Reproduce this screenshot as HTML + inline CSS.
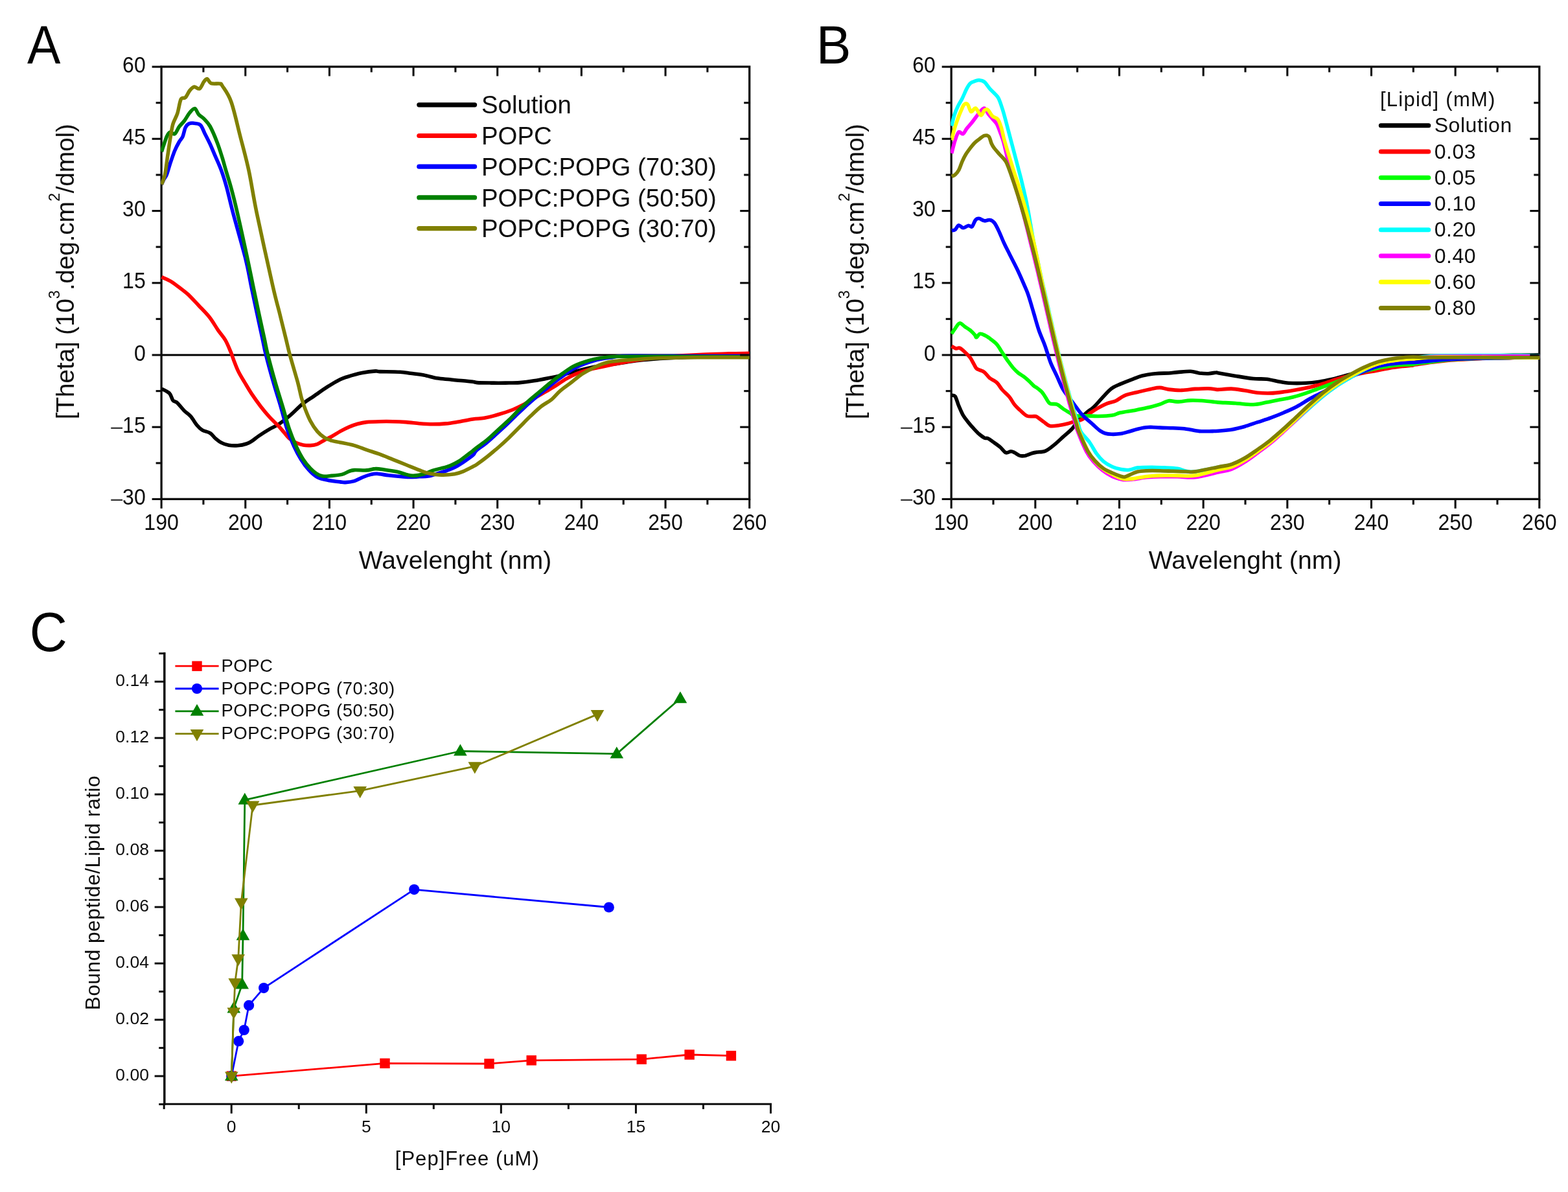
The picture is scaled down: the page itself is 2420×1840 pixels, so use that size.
<!DOCTYPE html>
<html lang="en"><head><meta charset="utf-8"><title>CD spectra and binding isotherms</title>
<style>
html,body{margin:0;padding:0;background:#fff;}
body{width:2420px;height:1840px;overflow:hidden;}
svg{display:block;}
</style></head><body>
<svg width="2420" height="1840" viewBox="0 0 2420 1840" font-family='"Liberation Sans", Arial, Helvetica, sans-serif' role="img" aria-label="CD spectra (A, B) and binding isotherms (C)">
<rect width="2420" height="1840" fill="#ffffff"/>
<clipPath id="clipA"><rect x="248.1" y="103.0" width="910.0" height="667.4"/></clipPath>
<line x1="249.10" y1="548.00" x2="1156.70" y2="548.00" stroke="#000" stroke-width="2.80" stroke-linecap="butt"/>
<rect x="249.10" y="103.00" width="907.60" height="667.40" fill="none" stroke="#0d0d0d" stroke-width="3.30"/>
<g clip-path="url(#clipA)" fill="none" stroke-width="5.6" stroke-linejoin="round" stroke-linecap="butt">
<path d="M249.4,600.1 C251.4,601.3 258.5,604.0 261.4,607.0 C264.4,610.0 264.9,615.4 266.9,617.9 C269.0,620.5 270.8,619.3 273.8,622.0 C276.7,624.8 281.3,630.9 284.7,634.4 C288.1,637.8 291.1,638.9 294.3,642.6 C297.5,646.2 300.9,652.7 303.9,656.3 C306.8,659.8 308.7,661.9 312.1,663.9 C315.5,666.0 321.0,666.4 324.4,668.6 C327.8,670.7 329.6,674.3 332.6,676.8 C335.6,679.3 338.8,681.9 342.2,683.6 C345.6,685.4 349.0,686.5 353.1,687.2 C357.3,687.9 362.3,688.1 366.8,687.7 C371.4,687.4 376.9,686.2 380.5,685.0 C384.2,683.9 385.5,683.0 388.7,680.9 C391.9,678.9 395.1,675.8 399.7,672.7 C404.2,669.6 411.1,665.2 416.1,662.3 C421.2,659.3 424.7,658.5 430.0,655.0 C435.3,651.5 441.5,646.7 447.6,641.4 C453.8,636.2 460.5,628.8 466.7,623.8 C472.8,618.8 477.7,616.1 484.3,611.6 C490.9,607.1 499.2,601.0 506.0,596.7 C512.8,592.4 520.0,588.3 525.0,585.8 C530.0,583.3 530.2,583.4 535.9,581.7 C541.5,580.0 551.7,577.1 559.0,575.6 C566.2,574.1 574.8,573.2 579.3,572.9 C583.8,572.6 579.8,573.3 586.1,573.6 C592.4,573.8 609.4,573.8 617.3,574.3 C625.2,574.7 627.5,575.5 633.6,576.3 C639.7,577.1 647.2,577.8 654.0,579.0 C660.8,580.2 667.6,582.6 674.3,583.8 C681.1,584.9 687.9,585.1 694.7,585.8 C701.5,586.5 709.2,587.3 715.1,587.8 C721.0,588.4 726.4,588.7 730.0,589.2 C733.6,589.6 731.7,590.2 736.4,590.6 C741.1,590.9 751.0,591.0 758.3,591.1 C765.6,591.2 772.9,591.2 780.2,591.1 C787.5,591.0 794.8,591.1 802.1,590.6 C809.4,590.0 816.7,589.0 824.0,587.8 C831.3,586.7 839.1,585.1 845.9,583.7 C852.7,582.4 858.7,581.2 865.1,579.6 C871.5,578.0 877.4,576.0 884.2,574.1 C891.1,572.3 898.8,570.3 906.1,568.7 C913.4,567.1 920.7,565.7 928.0,564.6 C935.3,563.4 942.6,562.9 949.9,561.8 C957.2,560.8 964.5,559.3 971.8,558.3 C979.1,557.2 986.4,556.3 993.7,555.5 C1001.0,554.7 1007.4,554.2 1015.6,553.6 C1023.8,553.1 1031.6,552.7 1043.0,552.2 C1054.4,551.8 1065.1,551.2 1084.1,550.9 C1103.0,550.6 1144.5,550.4 1156.6,550.3" stroke="#000000"/>
<path d="M249.4,427.6 C251.6,428.7 258.3,431.3 262.8,433.9 C267.3,436.5 271.9,440.1 276.5,443.5 C281.1,446.9 285.2,449.8 290.2,454.4 C295.2,459.1 301.1,465.7 306.6,471.5 C312.1,477.3 318.0,482.9 323.0,489.3 C328.1,495.7 332.6,503.9 336.7,509.8 C340.8,515.7 344.5,519.4 347.7,524.9 C350.9,530.3 353.6,537.2 355.9,542.7 C358.2,548.1 359.3,552.5 361.4,557.7 C363.4,563.0 365.5,568.7 368.2,574.1 C370.9,579.6 374.4,584.9 377.8,590.6 C381.2,596.3 384.6,602.2 388.7,608.4 C392.8,614.5 397.9,621.6 402.4,627.5 C407.0,633.5 411.5,638.9 416.1,643.9 C420.7,649.0 426.3,653.9 430.0,657.7 C433.7,661.6 435.4,664.1 438.1,667.2 C440.9,670.4 443.1,674.0 446.3,676.7 C449.5,679.5 453.5,681.8 457.1,683.5 C460.8,685.2 464.4,686.2 468.0,686.9 C471.6,687.6 475.2,687.8 478.9,687.6 C482.5,687.4 486.1,686.9 489.7,685.6 C493.3,684.2 497.0,681.4 500.6,679.5 C504.2,677.5 507.4,676.3 511.4,674.0 C515.5,671.8 520.5,668.4 525.0,665.9 C529.5,663.4 534.1,661.0 538.6,659.1 C543.1,657.2 547.6,655.6 552.2,654.3 C556.7,653.1 560.1,652.2 565.7,651.6 C571.4,651.0 579.3,650.8 586.1,650.7 C592.9,650.5 599.7,650.5 606.5,650.7 C613.3,650.8 620.0,651.1 626.8,651.6 C633.6,652.1 640.4,653.1 647.2,653.7 C654.0,654.2 660.8,654.7 667.6,654.8 C674.3,654.8 681.1,654.6 687.9,653.9 C694.7,653.3 701.3,652.1 708.3,651.0 C715.3,649.8 723.5,647.8 730.0,646.9 C736.5,645.9 740.8,646.5 747.4,645.3 C753.9,644.1 762.0,642.0 769.3,639.8 C776.6,637.7 784.8,635.0 791.2,632.5 C797.5,629.9 802.1,627.7 807.6,624.8 C813.1,621.9 818.5,618.4 824.0,615.2 C829.5,612.0 835.0,608.8 840.4,605.6 C845.9,602.4 851.4,599.5 856.9,596.0 C862.3,592.6 867.8,588.3 873.3,585.1 C878.8,581.9 884.2,579.2 889.7,576.9 C895.2,574.6 899.7,573.1 906.1,571.4 C912.5,569.7 920.7,568.1 928.0,566.5 C935.3,564.9 942.6,563.3 949.9,561.8 C957.2,560.4 964.5,558.9 971.8,557.7 C979.1,556.5 986.4,555.4 993.7,554.4 C1001.0,553.4 1007.4,552.5 1015.6,551.7 C1023.8,550.9 1031.6,550.2 1043.0,549.5 C1054.4,548.8 1070.4,547.9 1084.1,547.3 C1097.8,546.7 1113.0,546.3 1125.1,545.9 C1137.2,545.6 1151.4,545.5 1156.6,545.4" stroke="#ff0000"/>
<path d="M249.4,284.7 C250.0,283.3 251.9,279.0 253.2,276.5 C254.5,274.0 255.7,273.8 257.3,269.6 C258.9,265.5 260.8,258.0 262.8,251.9 C264.9,245.7 267.4,238.2 269.6,232.7 C271.9,227.2 274.4,222.7 276.5,219.0 C278.5,215.4 280.4,214.4 282.0,210.8 C283.6,207.1 284.5,200.4 286.1,197.1 C287.7,193.8 289.3,192.2 291.5,191.1 C293.8,189.9 296.8,189.9 299.8,190.3 C302.7,190.6 306.6,190.4 309.3,193.0 C312.1,195.6 313.5,201.0 316.0,205.9 C318.5,210.7 321.4,216.3 324.2,222.2 C326.9,228.1 329.4,234.4 332.3,241.2 C335.2,248.0 338.6,254.8 341.5,262.9 C344.5,271.0 347.0,279.2 350.0,290.0 C352.9,300.9 354.6,309.7 359.5,328.1 C364.3,346.4 374.4,381.2 379.1,400.0 C383.8,418.8 384.7,427.1 387.5,440.7 C390.3,454.3 393.2,467.9 396.1,481.4 C399.0,495.0 402.5,511.2 404.9,522.2 C407.3,533.1 407.5,536.0 410.3,547.3 C413.1,558.6 418.0,576.6 421.9,590.0 C425.7,603.5 429.9,616.1 433.4,628.1 C436.9,640.0 439.5,651.7 442.9,661.8 C446.3,672.0 450.1,681.0 453.8,689.0 C457.4,696.9 460.9,703.3 464.6,709.3 C468.3,715.3 472.0,720.4 476.2,724.9 C480.3,729.5 484.8,733.8 489.7,736.5 C494.7,739.2 500.1,740.0 506.0,741.2 C511.9,742.5 520.5,743.4 525.0,743.9 C529.5,744.5 529.5,744.8 533.2,744.6 C536.8,744.4 542.2,743.9 546.7,742.6 C551.3,741.2 556.0,738.2 560.3,736.5 C564.6,734.8 568.9,733.3 572.5,732.4 C576.2,731.5 577.5,731.1 582.0,731.3 C586.6,731.5 593.3,733.0 599.7,733.8 C606.0,734.5 614.4,735.3 620.0,735.8 C625.7,736.2 629.1,736.5 633.6,736.5 C638.1,736.5 642.7,736.0 647.2,735.8 C651.7,735.6 656.2,735.9 660.8,735.1 C665.3,734.4 669.8,732.7 674.3,731.3 C678.9,730.0 683.4,728.6 687.9,727.0 C692.4,725.3 697.0,723.8 701.5,721.5 C706.0,719.3 710.3,716.6 715.1,713.4 C719.8,710.2 726.7,705.5 730.0,702.5 C733.3,699.6 731.7,698.7 735.0,695.6 C738.3,692.6 745.0,688.4 750.0,684.3 C755.0,680.2 760.0,675.5 765.0,671.0 C770.0,666.5 775.0,662.0 780.0,657.3 C785.0,652.5 790.0,647.5 795.0,642.7 C800.0,637.9 805.0,633.0 810.0,628.4 C815.0,623.8 820.0,619.5 825.0,615.2 C830.0,610.9 835.0,606.8 840.0,602.7 C845.0,598.6 850.0,594.4 855.0,590.5 C860.0,586.6 865.0,582.9 870.0,579.4 C875.0,575.9 880.0,572.2 885.0,569.4 C890.0,566.5 895.0,564.4 900.0,562.4 C905.0,560.3 910.0,558.7 915.0,557.3 C920.0,555.8 925.0,554.7 930.0,553.8 C935.0,552.9 939.9,552.4 945.0,551.7 C950.1,551.0 949.1,549.9 960.9,549.5 C972.7,549.1 983.0,549.5 1015.6,549.5 C1048.3,549.5 1133.1,549.5 1156.6,549.5" stroke="#0000ff"/>
<path d="M249.4,234.1 C250.7,230.2 255.1,215.8 257.3,210.8 C259.6,205.8 260.8,204.6 262.8,203.9 C264.9,203.3 267.4,208.1 269.6,206.7 C271.9,205.3 274.0,199.2 276.5,195.7 C279.0,192.3 282.0,189.8 284.7,186.2 C287.4,182.5 290.3,176.9 292.9,173.8 C295.6,170.7 298.3,167.1 300.6,167.5 C302.9,168.0 304.2,173.9 306.6,176.6 C309.0,179.2 311.9,180.3 314.8,183.4 C317.7,186.5 320.8,189.0 324.2,195.0 C327.5,201.0 331.9,211.3 335.0,219.5 C338.2,227.6 340.9,236.7 343.2,243.9 C345.4,251.1 346.3,255.2 348.6,262.9 C350.9,270.6 353.8,279.2 356.7,290.0 C359.7,300.9 362.0,309.7 366.2,328.1 C370.5,346.4 378.0,381.2 382.1,400.0 C386.1,418.8 387.7,427.1 390.5,440.7 C393.3,454.3 396.2,467.9 399.0,481.4 C401.9,495.0 405.5,511.2 407.9,522.2 C410.2,533.1 410.5,536.0 413.3,547.3 C416.1,558.6 421.0,576.6 424.8,590.0 C428.7,603.5 432.8,616.1 436.4,628.1 C440.0,640.0 442.8,651.7 446.3,661.8 C449.8,672.0 453.5,681.0 457.1,689.0 C460.8,696.9 464.4,703.7 468.0,709.3 C471.6,715.0 475.5,719.3 478.9,722.9 C482.3,726.5 485.2,729.0 488.4,731.0 C491.5,733.1 494.0,734.5 497.9,735.1 C501.7,735.7 506.5,734.9 511.4,734.4 C516.4,734.0 523.2,733.5 527.7,732.4 C532.3,731.3 535.4,728.8 538.6,727.6 C541.8,726.5 542.2,725.9 546.7,725.6 C551.3,725.3 560.3,726.2 565.7,725.9 C571.2,725.5 574.8,723.7 579.3,723.6 C583.8,723.4 587.2,724.1 592.9,724.9 C598.6,725.7 607.6,727.1 613.3,728.3 C618.9,729.6 622.8,731.4 626.8,732.4 C630.9,733.4 633.2,734.5 637.7,734.4 C642.2,734.3 649.0,733.1 654.0,731.7 C659.0,730.4 663.0,727.8 667.6,726.3 C672.1,724.8 676.6,724.1 681.1,722.9 C685.7,721.7 690.2,720.6 694.7,718.8 C699.2,717.0 704.2,714.5 708.3,712.0 C712.4,709.5 715.5,706.6 719.1,703.9 C722.8,701.2 727.1,698.0 730.0,695.7 C732.9,693.5 732.6,693.4 736.4,690.5 C740.2,687.6 747.4,682.7 752.8,678.2 C758.3,673.6 763.8,668.1 769.3,663.1 C774.7,658.1 780.2,653.3 785.7,648.1 C791.2,642.8 796.6,636.9 802.1,631.6 C807.6,626.4 813.1,621.4 818.5,616.6 C824.0,611.8 829.5,607.4 835.0,602.9 C840.4,598.3 845.9,593.5 851.4,589.2 C856.9,584.9 862.3,580.8 867.8,576.9 C873.3,573.0 878.8,568.9 884.2,565.9 C889.7,563.0 895.2,561.0 900.7,559.1 C906.1,557.2 911.6,555.7 917.1,554.4 C922.6,553.2 927.1,552.4 933.5,551.7 C939.9,551.0 941.7,550.6 955.4,550.3 C969.1,550.1 982.1,550.2 1015.6,550.3 C1049.2,550.4 1133.1,550.8 1156.6,550.9" stroke="#008000"/>
<path d="M249.4,284.7 C250.3,282.2 253.0,276.9 254.6,269.6 C256.1,262.3 257.3,250.3 258.7,240.9 C260.1,231.6 261.4,221.7 262.8,213.5 C264.2,205.3 265.1,198.0 266.9,191.6 C268.7,185.2 271.7,181.6 273.8,175.2 C275.8,168.8 277.2,157.4 279.2,153.3 C281.3,149.2 283.8,152.8 286.1,150.6 C288.4,148.3 290.6,142.4 292.9,139.6 C295.2,136.9 297.3,134.6 299.8,134.1 C302.3,133.7 305.5,138.2 308.0,136.9 C310.5,135.5 312.9,128.4 314.8,125.9 C316.8,123.4 317.9,121.4 319.7,121.8 C321.6,122.3 322.5,127.4 325.8,128.7 C329.1,129.9 336.6,128.6 339.5,129.2 C342.4,129.9 340.3,127.9 343.2,132.6 C346.0,137.2 352.2,144.3 356.7,157.0 C361.3,169.7 365.8,191.0 370.3,208.6 C374.8,226.2 379.6,243.0 383.9,262.9 C388.2,282.8 390.0,298.4 396.1,328.1 C402.3,357.7 415.0,415.2 420.8,440.7 C426.6,466.3 427.6,467.9 431.0,481.4 C434.3,495.0 438.4,511.2 441.1,522.2 C443.8,533.1 444.2,536.0 447.2,547.3 C450.3,558.6 456.4,578.9 459.5,590.0 C462.5,601.2 463.4,607.5 465.3,614.3 C467.2,621.1 468.5,624.7 470.7,630.6 C473.0,636.5 475.7,643.7 478.9,649.6 C482.0,655.5 486.1,661.6 489.7,665.9 C493.3,670.2 497.0,673.0 500.6,675.4 C504.2,677.8 507.4,678.9 511.4,680.1 C515.5,681.4 519.1,681.6 525.0,682.9 C530.9,684.1 540.0,685.7 546.7,687.6 C553.5,689.5 559.2,692.1 565.7,694.4 C572.3,696.7 579.3,698.7 586.1,701.2 C592.9,703.7 599.7,706.6 606.5,709.3 C613.3,712.0 620.0,714.8 626.8,717.5 C633.6,720.2 641.5,723.5 647.2,725.6 C652.9,727.8 655.1,729.1 660.8,730.4 C666.4,731.6 674.3,732.9 681.1,733.1 C687.9,733.3 695.8,732.6 701.5,731.7 C707.1,730.8 710.3,729.6 715.1,727.6 C719.8,725.7 726.4,722.0 730.0,720.2 C733.6,718.3 732.6,719.2 736.4,716.5 C740.2,713.8 747.4,708.5 752.8,704.2 C758.3,699.8 763.8,695.3 769.3,690.5 C774.7,685.7 780.2,680.7 785.7,675.4 C791.2,670.2 796.6,664.5 802.1,659.0 C807.6,653.5 813.1,647.8 818.5,642.6 C824.0,637.3 829.5,631.9 835.0,627.5 C840.4,623.2 846.4,620.7 851.4,616.6 C856.4,612.5 860.0,607.2 865.1,602.9 C870.1,598.6 876.5,594.4 881.5,590.6 C886.5,586.7 890.6,582.8 895.2,579.6 C899.7,576.4 904.3,573.9 908.9,571.4 C913.4,568.9 917.5,566.6 922.6,564.6 C927.6,562.5 932.6,560.5 939.0,559.1 C945.4,557.7 952.7,557.1 960.9,556.3 C969.1,555.6 979.1,555.0 988.3,554.4 C997.4,553.8 1001.9,553.2 1015.6,552.8 C1029.3,552.3 1046.9,551.9 1070.4,551.7 C1093.9,551.5 1142.2,551.7 1156.6,551.7" stroke="#808000"/>
</g>
<line x1="249.10" y1="770.40" x2="249.10" y2="784.90" stroke="#0d0d0d" stroke-width="3.10" stroke-linecap="butt"/>
<text transform="translate(249.10,817.50) scale(0.9300,1.0000)" font-size="34.50" text-anchor="middle" fill="#0d0d0d">190</text>
<line x1="313.93" y1="770.40" x2="313.93" y2="778.90" stroke="#0d0d0d" stroke-width="3.10" stroke-linecap="butt"/>
<line x1="313.93" y1="103.00" x2="313.93" y2="111.50" stroke="#0d0d0d" stroke-width="3.10" stroke-linecap="butt"/>
<line x1="378.76" y1="770.40" x2="378.76" y2="784.90" stroke="#0d0d0d" stroke-width="3.10" stroke-linecap="butt"/>
<line x1="378.76" y1="103.00" x2="378.76" y2="117.50" stroke="#0d0d0d" stroke-width="3.10" stroke-linecap="butt"/>
<text transform="translate(378.76,817.50) scale(0.9300,1.0000)" font-size="34.50" text-anchor="middle" fill="#0d0d0d">200</text>
<line x1="443.59" y1="770.40" x2="443.59" y2="778.90" stroke="#0d0d0d" stroke-width="3.10" stroke-linecap="butt"/>
<line x1="443.59" y1="103.00" x2="443.59" y2="111.50" stroke="#0d0d0d" stroke-width="3.10" stroke-linecap="butt"/>
<line x1="508.41" y1="770.40" x2="508.41" y2="784.90" stroke="#0d0d0d" stroke-width="3.10" stroke-linecap="butt"/>
<line x1="508.41" y1="103.00" x2="508.41" y2="117.50" stroke="#0d0d0d" stroke-width="3.10" stroke-linecap="butt"/>
<text transform="translate(508.41,817.50) scale(0.9300,1.0000)" font-size="34.50" text-anchor="middle" fill="#0d0d0d">210</text>
<line x1="573.24" y1="770.40" x2="573.24" y2="778.90" stroke="#0d0d0d" stroke-width="3.10" stroke-linecap="butt"/>
<line x1="573.24" y1="103.00" x2="573.24" y2="111.50" stroke="#0d0d0d" stroke-width="3.10" stroke-linecap="butt"/>
<line x1="638.07" y1="770.40" x2="638.07" y2="784.90" stroke="#0d0d0d" stroke-width="3.10" stroke-linecap="butt"/>
<line x1="638.07" y1="103.00" x2="638.07" y2="117.50" stroke="#0d0d0d" stroke-width="3.10" stroke-linecap="butt"/>
<text transform="translate(638.07,817.50) scale(0.9300,1.0000)" font-size="34.50" text-anchor="middle" fill="#0d0d0d">220</text>
<line x1="702.90" y1="770.40" x2="702.90" y2="778.90" stroke="#0d0d0d" stroke-width="3.10" stroke-linecap="butt"/>
<line x1="702.90" y1="103.00" x2="702.90" y2="111.50" stroke="#0d0d0d" stroke-width="3.10" stroke-linecap="butt"/>
<line x1="767.73" y1="770.40" x2="767.73" y2="784.90" stroke="#0d0d0d" stroke-width="3.10" stroke-linecap="butt"/>
<line x1="767.73" y1="103.00" x2="767.73" y2="117.50" stroke="#0d0d0d" stroke-width="3.10" stroke-linecap="butt"/>
<text transform="translate(767.73,817.50) scale(0.9300,1.0000)" font-size="34.50" text-anchor="middle" fill="#0d0d0d">230</text>
<line x1="832.56" y1="770.40" x2="832.56" y2="778.90" stroke="#0d0d0d" stroke-width="3.10" stroke-linecap="butt"/>
<line x1="832.56" y1="103.00" x2="832.56" y2="111.50" stroke="#0d0d0d" stroke-width="3.10" stroke-linecap="butt"/>
<line x1="897.39" y1="770.40" x2="897.39" y2="784.90" stroke="#0d0d0d" stroke-width="3.10" stroke-linecap="butt"/>
<line x1="897.39" y1="103.00" x2="897.39" y2="117.50" stroke="#0d0d0d" stroke-width="3.10" stroke-linecap="butt"/>
<text transform="translate(897.39,817.50) scale(0.9300,1.0000)" font-size="34.50" text-anchor="middle" fill="#0d0d0d">240</text>
<line x1="962.21" y1="770.40" x2="962.21" y2="778.90" stroke="#0d0d0d" stroke-width="3.10" stroke-linecap="butt"/>
<line x1="962.21" y1="103.00" x2="962.21" y2="111.50" stroke="#0d0d0d" stroke-width="3.10" stroke-linecap="butt"/>
<line x1="1027.04" y1="770.40" x2="1027.04" y2="784.90" stroke="#0d0d0d" stroke-width="3.10" stroke-linecap="butt"/>
<line x1="1027.04" y1="103.00" x2="1027.04" y2="117.50" stroke="#0d0d0d" stroke-width="3.10" stroke-linecap="butt"/>
<text transform="translate(1027.04,817.50) scale(0.9300,1.0000)" font-size="34.50" text-anchor="middle" fill="#0d0d0d">250</text>
<line x1="1091.87" y1="770.40" x2="1091.87" y2="778.90" stroke="#0d0d0d" stroke-width="3.10" stroke-linecap="butt"/>
<line x1="1091.87" y1="103.00" x2="1091.87" y2="111.50" stroke="#0d0d0d" stroke-width="3.10" stroke-linecap="butt"/>
<line x1="1156.70" y1="770.40" x2="1156.70" y2="784.90" stroke="#0d0d0d" stroke-width="3.10" stroke-linecap="butt"/>
<text transform="translate(1156.70,817.50) scale(0.9300,1.0000)" font-size="34.50" text-anchor="middle" fill="#0d0d0d">260</text>
<line x1="234.60" y1="103.10" x2="249.10" y2="103.10" stroke="#0d0d0d" stroke-width="3.10" stroke-linecap="butt"/>
<text transform="translate(224.80,111.80) scale(0.9300,1.0000)" font-size="34.50" text-anchor="end" fill="#0d0d0d">60</text>
<line x1="240.60" y1="158.71" x2="249.10" y2="158.71" stroke="#0d0d0d" stroke-width="3.10" stroke-linecap="butt"/>
<line x1="1148.20" y1="158.71" x2="1156.70" y2="158.71" stroke="#0d0d0d" stroke-width="3.10" stroke-linecap="butt"/>
<line x1="234.60" y1="214.32" x2="249.10" y2="214.32" stroke="#0d0d0d" stroke-width="3.10" stroke-linecap="butt"/>
<line x1="1142.20" y1="214.32" x2="1156.70" y2="214.32" stroke="#0d0d0d" stroke-width="3.10" stroke-linecap="butt"/>
<text transform="translate(224.80,223.02) scale(0.9300,1.0000)" font-size="34.50" text-anchor="end" fill="#0d0d0d">45</text>
<line x1="240.60" y1="269.94" x2="249.10" y2="269.94" stroke="#0d0d0d" stroke-width="3.10" stroke-linecap="butt"/>
<line x1="1148.20" y1="269.94" x2="1156.70" y2="269.94" stroke="#0d0d0d" stroke-width="3.10" stroke-linecap="butt"/>
<line x1="234.60" y1="325.55" x2="249.10" y2="325.55" stroke="#0d0d0d" stroke-width="3.10" stroke-linecap="butt"/>
<line x1="1142.20" y1="325.55" x2="1156.70" y2="325.55" stroke="#0d0d0d" stroke-width="3.10" stroke-linecap="butt"/>
<text transform="translate(224.80,334.25) scale(0.9300,1.0000)" font-size="34.50" text-anchor="end" fill="#0d0d0d">30</text>
<line x1="240.60" y1="381.16" x2="249.10" y2="381.16" stroke="#0d0d0d" stroke-width="3.10" stroke-linecap="butt"/>
<line x1="1148.20" y1="381.16" x2="1156.70" y2="381.16" stroke="#0d0d0d" stroke-width="3.10" stroke-linecap="butt"/>
<line x1="234.60" y1="436.77" x2="249.10" y2="436.77" stroke="#0d0d0d" stroke-width="3.10" stroke-linecap="butt"/>
<line x1="1142.20" y1="436.77" x2="1156.70" y2="436.77" stroke="#0d0d0d" stroke-width="3.10" stroke-linecap="butt"/>
<text transform="translate(224.80,445.47) scale(0.9300,1.0000)" font-size="34.50" text-anchor="end" fill="#0d0d0d">15</text>
<line x1="240.60" y1="492.39" x2="249.10" y2="492.39" stroke="#0d0d0d" stroke-width="3.10" stroke-linecap="butt"/>
<line x1="1148.20" y1="492.39" x2="1156.70" y2="492.39" stroke="#0d0d0d" stroke-width="3.10" stroke-linecap="butt"/>
<line x1="234.60" y1="548.00" x2="249.10" y2="548.00" stroke="#0d0d0d" stroke-width="3.10" stroke-linecap="butt"/>
<line x1="1142.20" y1="548.00" x2="1156.70" y2="548.00" stroke="#0d0d0d" stroke-width="3.10" stroke-linecap="butt"/>
<text transform="translate(224.80,556.70) scale(0.9300,1.0000)" font-size="34.50" text-anchor="end" fill="#0d0d0d">0</text>
<line x1="240.60" y1="603.61" x2="249.10" y2="603.61" stroke="#0d0d0d" stroke-width="3.10" stroke-linecap="butt"/>
<line x1="1148.20" y1="603.61" x2="1156.70" y2="603.61" stroke="#0d0d0d" stroke-width="3.10" stroke-linecap="butt"/>
<line x1="234.60" y1="659.23" x2="249.10" y2="659.23" stroke="#0d0d0d" stroke-width="3.10" stroke-linecap="butt"/>
<line x1="1142.20" y1="659.23" x2="1156.70" y2="659.23" stroke="#0d0d0d" stroke-width="3.10" stroke-linecap="butt"/>
<text transform="translate(224.80,667.93) scale(0.9300,1.0000)" font-size="34.50" text-anchor="end" fill="#0d0d0d"><tspan dy="1.8" fill="#3a3a3a">–</tspan><tspan dy="-1.8">15</tspan></text>
<line x1="240.60" y1="714.84" x2="249.10" y2="714.84" stroke="#0d0d0d" stroke-width="3.10" stroke-linecap="butt"/>
<line x1="1148.20" y1="714.84" x2="1156.70" y2="714.84" stroke="#0d0d0d" stroke-width="3.10" stroke-linecap="butt"/>
<line x1="234.60" y1="770.45" x2="249.10" y2="770.45" stroke="#0d0d0d" stroke-width="3.10" stroke-linecap="butt"/>
<text transform="translate(224.80,779.15) scale(0.9300,1.0000)" font-size="34.50" text-anchor="end" fill="#0d0d0d"><tspan dy="1.8" fill="#3a3a3a">–</tspan><tspan dy="-1.8">30</tspan></text>
<text transform="translate(702.60,878.10)" font-size="39.00" text-anchor="middle" fill="#0d0d0d" letter-spacing="0.15">Wavelenght (nm)</text>
<text transform="translate(113.50,647.35) rotate(-90)" text-anchor="start" letter-spacing="-0.22" fill="#0d0d0d"><tspan font-size="39.0">[Theta] (10</tspan><tspan font-size="23.5" dy="-21.5">3</tspan><tspan font-size="39.0" dy="21.5">.deg.cm</tspan><tspan font-size="23.5" dy="-21.5">2</tspan><tspan font-size="39.0" dy="21.5">/dmol)</tspan></text>
<text transform="translate(42.11,98.10) scale(0.9287,1.0000)" font-size="83.05" text-anchor="start" fill="#000">A</text>
<line x1="646.80" y1="161.80" x2="732.60" y2="161.80" stroke="#000000" stroke-width="7.20" stroke-linecap="round"/>
<text transform="translate(743.00,175.40) scale(0.9850,1.0000)" font-size="39.00" text-anchor="start" fill="#0d0d0d">Solution</text>
<line x1="646.80" y1="209.50" x2="732.60" y2="209.50" stroke="#ff0000" stroke-width="7.20" stroke-linecap="round"/>
<text transform="translate(743.00,223.10) scale(0.9850,1.0000)" font-size="39.00" text-anchor="start" fill="#0d0d0d">POPC</text>
<line x1="646.80" y1="257.20" x2="732.60" y2="257.20" stroke="#0000ff" stroke-width="7.20" stroke-linecap="round"/>
<text transform="translate(743.00,270.80) scale(0.9850,1.0000)" font-size="39.00" text-anchor="start" fill="#0d0d0d">POPC:POPG (70:30)</text>
<line x1="646.80" y1="304.90" x2="732.60" y2="304.90" stroke="#008000" stroke-width="7.20" stroke-linecap="round"/>
<text transform="translate(743.00,318.50) scale(0.9850,1.0000)" font-size="39.00" text-anchor="start" fill="#0d0d0d">POPC:POPG (50:50)</text>
<line x1="646.80" y1="352.60" x2="732.60" y2="352.60" stroke="#808000" stroke-width="7.20" stroke-linecap="round"/>
<text transform="translate(743.00,366.20) scale(0.9850,1.0000)" font-size="39.00" text-anchor="start" fill="#0d0d0d">POPC:POPG (30:70)</text>
<clipPath id="clipB"><rect x="1467.2" y="103.0" width="910.0" height="667.4"/></clipPath>
<line x1="1468.20" y1="548.00" x2="2375.80" y2="548.00" stroke="#000" stroke-width="2.80" stroke-linecap="butt"/>
<rect x="1468.20" y="103.00" width="907.60" height="667.40" fill="none" stroke="#0d0d0d" stroke-width="3.30"/>
<g clip-path="url(#clipB)" fill="none" stroke-width="5.6" stroke-linejoin="round" stroke-linecap="butt">
<path d="M1468.7,610.3 C1469.6,610.5 1472.3,609.3 1474.2,611.9 C1476.0,614.6 1477.6,621.3 1479.6,626.2 C1481.7,631.0 1484.0,636.9 1486.5,641.2 C1489.0,645.5 1492.0,648.7 1494.7,652.2 C1497.4,655.6 1500.2,658.8 1502.9,661.7 C1505.7,664.7 1508.4,667.6 1511.1,670.0 C1513.9,672.3 1517.1,674.8 1519.3,676.0 C1521.6,677.1 1522.5,675.7 1524.8,676.8 C1527.1,677.8 1529.8,680.0 1533.0,682.3 C1536.2,684.6 1540.8,687.7 1544.0,690.5 C1547.2,693.2 1549.5,697.6 1552.2,698.7 C1554.9,699.7 1558.1,696.8 1560.4,696.8 C1562.7,696.8 1563.6,697.6 1565.9,698.7 C1568.2,699.8 1571.4,702.6 1574.1,703.4 C1576.8,704.1 1579.1,704.0 1582.3,703.4 C1585.5,702.7 1590.3,700.4 1593.3,699.5 C1596.2,698.7 1596.6,698.7 1600.0,698.1 C1603.4,697.6 1609.0,698.0 1613.6,696.1 C1618.1,694.2 1622.6,690.2 1627.1,686.6 C1631.7,683.0 1636.2,678.5 1640.7,674.4 C1645.2,670.3 1650.7,666.0 1654.3,662.2 C1657.9,658.3 1658.8,655.4 1662.4,651.3 C1666.1,647.2 1671.7,641.6 1676.0,637.7 C1680.3,633.9 1683.9,632.3 1688.2,628.2 C1692.5,624.2 1697.3,618.1 1701.8,613.3 C1706.3,608.6 1710.9,603.1 1715.4,599.7 C1719.9,596.3 1723.3,595.4 1729.0,592.9 C1734.6,590.5 1743.7,586.9 1749.3,584.8 C1755.0,582.6 1757.2,581.4 1762.9,580.0 C1768.6,578.7 1776.5,577.3 1783.3,576.7 C1790.0,576.0 1798.0,576.3 1803.6,576.0 C1809.3,575.6 1811.5,575.1 1817.2,574.6 C1822.9,574.2 1831.9,573.0 1837.6,573.3 C1843.2,573.5 1846.6,575.4 1851.1,576.0 C1855.7,576.5 1860.4,576.8 1864.7,576.7 C1869.0,576.5 1874.4,575.2 1876.9,575.0 C1879.5,574.9 1875.0,574.8 1880.0,575.7 C1885.0,576.6 1898.1,578.9 1907.1,580.4 C1916.2,581.9 1926.4,583.7 1934.3,584.5 C1942.2,585.3 1947.9,584.4 1954.7,585.2 C1961.4,586.0 1969.4,588.2 1975.0,589.2 C1980.7,590.2 1981.8,590.9 1988.6,591.3 C1995.4,591.6 2007.8,591.6 2015.7,591.3 C2023.7,590.9 2029.3,590.2 2036.1,589.2 C2042.9,588.2 2049.7,586.7 2056.5,585.2 C2063.3,583.6 2070.0,581.5 2076.8,579.7 C2083.6,577.9 2090.4,576.0 2097.2,574.3 C2104.0,572.6 2110.8,571.0 2117.6,569.5 C2124.3,568.1 2131.1,566.7 2137.9,565.5 C2144.7,564.2 2151.3,563.0 2158.3,562.1 C2165.3,561.2 2172.4,561.5 2180.0,560.0 C2187.6,558.6 2196.1,554.9 2203.7,553.6 C2211.3,552.3 2217.4,552.7 2225.6,552.2 C2233.8,551.8 2241.6,551.3 2253.0,550.9 C2264.4,550.4 2280.4,549.9 2294.1,549.5 C2307.8,549.1 2321.4,548.7 2335.1,548.4 C2348.8,548.1 2369.4,548.0 2376.2,547.9" stroke="#000000"/>
<path d="M1468.7,534.4 C1469.8,535.0 1473.5,537.5 1475.5,538.0 C1477.6,538.5 1478.7,536.3 1481.0,537.2 C1483.3,538.1 1486.5,541.0 1489.2,543.5 C1492.0,546.0 1495.2,549.2 1497.4,552.2 C1499.7,555.3 1501.3,559.1 1502.9,561.8 C1504.5,564.6 1505.4,567.1 1507.0,568.7 C1508.6,570.3 1510.4,570.4 1512.5,571.4 C1514.6,572.4 1516.8,572.6 1519.3,574.7 C1521.9,576.7 1524.4,581.1 1527.6,583.7 C1530.8,586.4 1535.3,587.6 1538.5,590.6 C1541.7,593.5 1543.5,597.9 1546.7,601.5 C1549.9,605.2 1554.5,608.6 1557.7,612.5 C1560.9,616.3 1563.1,621.4 1565.9,624.8 C1568.6,628.2 1570.9,630.1 1574.1,633.0 C1577.3,635.9 1581.4,640.4 1585.0,642.0 C1588.7,643.6 1593.5,642.4 1596.0,642.6 C1598.5,642.8 1597.5,641.7 1600.0,643.2 C1602.5,644.6 1607.5,648.9 1610.9,651.3 C1614.3,653.7 1616.5,656.5 1620.4,657.4 C1624.2,658.3 1629.4,657.3 1633.9,656.7 C1638.5,656.2 1643.4,655.0 1647.5,654.0 C1651.6,653.0 1654.5,651.8 1658.4,650.6 C1662.2,649.5 1666.7,649.3 1670.6,647.2 C1674.4,645.2 1677.4,641.4 1681.4,638.4 C1685.5,635.5 1690.5,632.2 1695.0,629.6 C1699.5,627.0 1704.1,624.6 1708.6,622.8 C1713.1,621.0 1717.6,620.8 1722.2,618.7 C1726.7,616.7 1730.1,612.9 1735.7,610.6 C1741.4,608.3 1749.3,606.9 1756.1,605.2 C1762.9,603.5 1770.8,601.5 1776.5,600.4 C1782.1,599.3 1785.5,598.3 1790.0,598.4 C1794.6,598.5 1798.0,600.4 1803.6,601.1 C1809.3,601.8 1817.2,602.6 1824.0,602.4 C1830.8,602.3 1837.6,600.9 1844.3,600.4 C1851.1,600.0 1859.3,599.6 1864.7,599.7 C1870.1,599.8 1874.4,600.8 1876.9,601.1 C1879.5,601.4 1876.1,601.6 1880.0,601.4 C1883.9,601.3 1893.6,599.9 1900.4,600.1 C1907.1,600.3 1913.9,601.8 1920.7,602.8 C1927.5,603.8 1934.3,605.5 1941.1,606.2 C1947.9,606.9 1954.7,607.1 1961.4,606.9 C1968.2,606.7 1975.0,605.7 1981.8,604.8 C1988.6,603.9 1995.4,602.7 2002.2,601.4 C2009.0,600.2 2015.7,599.0 2022.5,597.4 C2029.3,595.8 2036.1,594.0 2042.9,591.9 C2049.7,589.9 2056.5,587.2 2063.3,585.2 C2070.0,583.1 2076.8,581.3 2083.6,579.7 C2090.4,578.1 2097.2,576.9 2104.0,575.7 C2110.8,574.4 2117.6,573.5 2124.3,572.3 C2131.1,571.0 2137.9,569.3 2144.7,568.2 C2151.5,567.1 2159.2,566.2 2165.1,565.5 C2171.0,564.8 2176.7,564.6 2180.0,564.1 C2183.3,563.7 2179.7,563.7 2185.0,562.8 C2190.4,562.0 2203.1,560.1 2212.2,559.0 C2221.2,557.9 2230.3,556.8 2239.3,556.0 C2248.4,555.2 2257.4,554.8 2266.5,554.4 C2275.5,553.9 2282.3,553.6 2293.6,553.3 C2304.9,553.0 2320.6,553.0 2334.3,552.4 C2348.1,551.7 2369.2,550.0 2376.2,549.5" stroke="#ff0000"/>
<path d="M1468.7,515.3 C1469.6,513.9 1472.1,509.8 1474.2,507.1 C1476.2,504.3 1478.5,499.3 1481.0,498.9 C1483.5,498.4 1486.5,502.5 1489.2,504.3 C1492.0,506.2 1494.9,507.8 1497.4,509.8 C1500.0,511.9 1502.7,514.8 1504.3,516.7 C1505.9,518.5 1505.7,521.0 1507.0,520.8 C1508.4,520.5 1510.2,515.7 1512.5,515.3 C1514.8,514.8 1518.0,516.7 1520.7,518.0 C1523.5,519.4 1526.0,521.2 1528.9,523.5 C1531.9,525.8 1535.5,528.3 1538.5,531.7 C1541.5,535.1 1544.0,539.9 1546.7,544.0 C1549.5,548.1 1552.2,552.5 1554.9,556.3 C1557.7,560.2 1560.4,564.1 1563.1,567.3 C1565.9,570.5 1568.6,573.2 1571.4,575.5 C1574.1,577.8 1576.8,578.9 1579.6,581.0 C1582.3,583.0 1585.0,585.3 1587.8,587.8 C1590.5,590.3 1594.0,594.3 1596.0,596.0 C1598.0,597.8 1598.0,596.9 1600.0,598.4 C1602.0,599.9 1605.9,602.7 1608.1,605.2 C1610.4,607.6 1611.5,610.4 1613.6,613.3 C1615.6,616.2 1617.4,621.0 1620.4,622.8 C1623.3,624.6 1627.8,622.8 1631.2,624.2 C1634.6,625.5 1637.3,628.7 1640.7,631.0 C1644.1,633.2 1648.6,635.9 1651.6,637.7 C1654.5,639.5 1654.3,641.1 1658.4,641.8 C1662.4,642.5 1669.9,641.7 1676.0,641.8 C1682.1,641.9 1688.2,642.6 1695.0,642.5 C1701.8,642.4 1711.1,642.0 1716.7,641.1 C1722.4,640.2 1723.5,638.3 1729.0,637.1 C1734.4,635.8 1742.5,634.9 1749.3,633.7 C1756.1,632.4 1762.9,631.2 1769.7,629.6 C1776.5,628.0 1784.4,626.0 1790.0,624.2 C1795.7,622.4 1799.1,619.4 1803.6,618.7 C1808.1,618.1 1811.5,620.2 1817.2,620.1 C1822.9,620.0 1830.8,618.3 1837.6,618.1 C1844.3,617.8 1852.3,618.4 1857.9,618.7 C1863.6,619.1 1867.8,619.7 1871.5,620.1 C1875.2,620.5 1874.1,620.7 1880.0,621.1 C1885.9,621.5 1898.1,621.9 1907.1,622.5 C1916.2,623.1 1926.4,624.8 1934.3,624.5 C1942.2,624.3 1947.9,622.4 1954.7,621.1 C1961.4,619.9 1968.2,618.4 1975.0,617.1 C1981.8,615.7 1988.6,614.7 1995.4,613.0 C2002.2,611.3 2009.0,609.1 2015.7,606.9 C2022.5,604.6 2029.3,601.9 2036.1,599.4 C2042.9,596.9 2049.7,594.5 2056.5,591.9 C2063.3,589.3 2070.0,586.5 2076.8,583.8 C2083.6,581.1 2090.4,577.9 2097.2,575.7 C2104.0,573.4 2110.8,571.8 2117.6,570.2 C2124.3,568.6 2131.1,567.3 2137.9,566.2 C2144.7,565.0 2151.3,564.0 2158.3,563.4 C2165.3,562.9 2175.5,563.1 2180.0,562.8 C2184.5,562.4 2179.7,562.2 2185.0,561.4 C2190.4,560.7 2203.1,559.1 2212.2,558.1 C2221.2,557.0 2230.3,556.0 2239.3,555.3 C2248.4,554.7 2257.4,554.4 2266.5,554.0 C2275.5,553.6 2282.3,553.3 2293.6,553.0 C2304.9,552.7 2320.6,552.7 2334.3,552.2 C2348.1,551.8 2369.2,550.6 2376.2,550.3" stroke="#00ff00"/>
<path d="M1468.7,355.9 C1469.6,355.7 1472.3,355.9 1474.2,354.5 C1476.0,353.1 1477.6,348.1 1479.6,347.7 C1481.7,347.2 1484.0,351.7 1486.5,351.8 C1489.0,351.9 1492.4,348.5 1494.7,348.2 C1497.0,347.9 1498.4,351.3 1500.2,349.9 C1502.0,348.4 1503.8,341.6 1505.7,339.5 C1507.5,337.4 1508.8,337.0 1511.1,337.3 C1513.4,337.5 1516.6,340.5 1519.3,340.8 C1522.1,341.2 1525.0,339.0 1527.6,339.5 C1530.1,339.9 1532.1,340.8 1534.4,343.6 C1536.7,346.3 1538.7,350.6 1541.2,355.9 C1543.8,361.1 1546.7,369.1 1549.5,375.0 C1552.2,381.0 1554.1,384.4 1557.7,391.5 C1561.2,398.6 1566.9,409.3 1570.9,417.7 C1574.9,426.2 1579.0,435.8 1581.7,442.2 C1584.4,448.5 1584.9,449.0 1587.1,455.7 C1589.4,462.5 1592.6,473.8 1595.3,482.9 C1598.0,491.9 1600.7,502.1 1603.4,510.0 C1606.2,518.0 1609.7,525.4 1611.6,530.4 C1613.5,535.4 1613.2,535.0 1614.9,540.0 C1616.6,545.0 1619.0,553.6 1621.7,560.4 C1624.4,567.1 1628.1,573.9 1631.2,580.7 C1634.4,587.5 1637.3,595.2 1640.7,601.1 C1644.1,607.0 1648.4,611.7 1651.6,616.0 C1654.8,620.3 1657.0,623.3 1659.7,626.9 C1662.4,630.5 1665.2,634.6 1667.9,637.7 C1670.6,640.9 1672.9,642.9 1676.0,645.9 C1679.2,648.8 1683.3,652.2 1686.9,655.4 C1690.5,658.6 1694.6,662.6 1697.7,664.9 C1700.9,667.1 1702.9,668.1 1705.9,669.0 C1708.8,669.9 1711.5,670.2 1715.4,670.3 C1719.2,670.4 1724.4,670.3 1729.0,669.6 C1733.5,669.0 1738.0,667.5 1742.5,666.2 C1747.1,665.0 1751.1,663.3 1756.1,662.2 C1761.1,661.0 1766.7,659.8 1772.4,659.5 C1778.1,659.1 1783.7,659.9 1790.0,660.1 C1796.4,660.4 1803.6,660.5 1810.4,660.8 C1817.2,661.2 1824.0,661.4 1830.8,662.2 C1837.6,663.0 1844.3,665.0 1851.1,665.6 C1857.9,666.1 1866.7,665.6 1871.5,665.6 C1876.3,665.5 1875.2,665.6 1880.0,665.2 C1884.8,664.9 1893.6,664.3 1900.4,663.2 C1907.1,662.1 1913.9,660.4 1920.7,658.5 C1927.5,656.5 1934.3,653.9 1941.1,651.7 C1947.9,649.4 1954.7,647.4 1961.4,644.9 C1968.2,642.4 1975.0,639.7 1981.8,636.7 C1988.6,633.8 1995.4,630.9 2002.2,627.2 C2009.0,623.6 2015.7,618.8 2022.5,615.0 C2029.3,611.3 2036.1,608.5 2042.9,604.8 C2049.7,601.2 2056.5,597.0 2063.3,593.3 C2070.0,589.6 2076.8,585.7 2083.6,582.4 C2090.4,579.2 2097.2,576.3 2104.0,573.6 C2110.8,570.9 2117.6,568.1 2124.3,566.2 C2131.1,564.2 2137.9,563.1 2144.7,562.1 C2151.5,561.1 2159.2,560.5 2165.1,560.0 C2171.0,559.6 2176.7,559.5 2180.0,559.4 C2183.3,559.3 2179.7,559.9 2185.0,559.4 C2190.4,559.0 2203.1,557.5 2212.2,556.7 C2221.2,555.9 2230.3,555.2 2239.3,554.7 C2248.4,554.1 2257.4,553.9 2266.5,553.6 C2275.5,553.3 2282.3,553.1 2293.6,552.9 C2304.9,552.7 2320.6,552.6 2334.3,552.2 C2348.1,551.9 2369.2,551.1 2376.2,550.9" stroke="#0000ff"/>
<path d="M1468.7,194.4 C1469.4,191.6 1471.2,183.0 1472.8,177.9 C1474.4,172.9 1476.2,168.6 1478.3,164.3 C1480.3,159.9 1482.8,156.5 1485.1,151.9 C1487.4,147.4 1489.9,140.8 1492.0,136.9 C1494.0,133.0 1495.4,130.6 1497.4,128.7 C1499.5,126.7 1502.0,126.2 1504.3,125.4 C1506.6,124.6 1508.6,123.6 1511.1,123.7 C1513.6,123.9 1516.6,124.3 1519.3,126.5 C1522.1,128.7 1524.8,133.8 1527.6,136.9 C1530.3,140.0 1533.5,142.6 1535.8,145.1 C1538.1,147.6 1539.4,148.3 1541.2,151.9 C1543.1,155.6 1544.9,161.3 1546.7,167.0 C1548.5,172.7 1547.9,170.0 1552.2,186.2 C1556.5,202.3 1568.7,248.9 1572.7,264.0 C1576.7,279.1 1575.0,272.7 1576.1,277.0 C1577.1,281.3 1578.2,285.7 1579.2,290.0 C1580.3,294.3 1581.2,298.7 1582.2,303.0 C1583.2,307.3 1584.2,311.7 1585.0,316.0 C1585.9,320.3 1586.7,324.7 1587.5,329.0 C1588.2,333.3 1589.0,337.7 1589.7,342.0 C1590.5,346.3 1591.3,350.7 1592.0,355.0 C1592.8,359.3 1593.5,363.7 1594.3,368.0 C1595.1,372.3 1596.0,376.7 1596.9,381.0 C1597.8,385.3 1598.8,389.7 1599.7,394.0 C1600.7,398.3 1601.6,402.7 1602.5,407.0 C1603.4,411.3 1604.3,415.7 1605.2,420.0 C1606.2,424.3 1607.0,428.7 1608.0,433.0 C1609.0,437.3 1610.0,441.7 1611.0,446.0 C1612.0,450.3 1613.0,454.7 1614.0,459.0 C1614.9,463.3 1615.9,467.7 1616.9,472.0 C1617.9,476.3 1618.9,480.7 1619.8,485.0 C1620.8,489.3 1621.8,493.7 1622.8,498.0 C1623.7,502.3 1624.7,506.7 1625.7,511.0 C1626.7,515.3 1627.7,519.7 1628.7,524.0 C1629.7,528.3 1630.7,532.7 1631.7,537.0 C1632.7,541.3 1633.8,545.7 1634.9,550.0 C1635.9,554.3 1637.0,558.7 1638.1,563.0 C1639.2,567.3 1640.3,571.7 1641.4,576.0 C1642.5,580.3 1643.6,584.7 1644.8,589.0 C1645.9,593.3 1647.1,597.7 1648.3,602.0 C1649.4,606.3 1650.6,610.7 1651.9,615.0 C1653.1,619.3 1654.4,623.7 1655.7,628.0 C1657.0,632.3 1658.4,636.7 1659.8,641.0 C1661.2,645.3 1662.6,649.7 1664.0,654.0 C1665.5,658.3 1665.5,662.2 1668.4,667.0 C1671.3,671.8 1677.5,677.0 1681.4,682.5 C1685.4,688.1 1688.7,695.2 1692.3,700.2 C1695.9,705.2 1699.1,709.0 1703.2,712.4 C1707.2,715.8 1712.2,718.5 1716.7,720.5 C1721.3,722.6 1726.0,723.8 1730.3,724.6 C1734.6,725.4 1738.2,725.7 1742.5,725.3 C1746.8,724.8 1750.5,722.6 1756.1,721.9 C1761.8,721.2 1769.7,721.2 1776.5,721.2 C1783.3,721.2 1790.0,721.6 1796.8,721.9 C1803.6,722.2 1811.5,722.4 1817.2,723.3 C1822.9,724.2 1826.2,726.5 1830.8,727.3 C1835.3,728.1 1836.1,729.0 1844.3,728.0 C1852.5,727.0 1870.7,723.0 1880.0,721.2 C1889.3,719.4 1893.6,719.3 1900.4,717.1 C1907.1,714.9 1913.9,711.7 1920.7,708.0 C1927.5,704.3 1934.3,699.6 1941.1,695.1 C1947.9,690.6 1954.7,686.0 1961.4,680.9 C1968.2,675.8 1975.0,670.2 1981.8,664.6 C1988.6,658.9 1995.4,653.0 2002.2,646.9 C2009.0,640.9 2015.7,634.4 2022.5,628.3 C2029.3,622.3 2036.1,616.1 2042.9,610.7 C2049.7,605.2 2056.5,600.3 2063.3,595.7 C2070.0,591.2 2076.8,587.3 2083.6,583.3 C2090.4,579.2 2097.2,575.1 2104.0,571.6 C2110.8,568.1 2117.6,564.7 2124.3,562.4 C2131.1,560.0 2137.9,558.7 2144.7,557.3 C2151.5,556.0 2159.2,554.9 2165.1,554.2 C2171.0,553.5 2169.9,554.0 2180.0,553.1 C2190.1,552.2 2192.9,549.6 2225.6,549.0 C2258.3,548.3 2351.1,549.0 2376.2,549.0" stroke="#00ffff"/>
<path d="M1468.7,236.8 C1469.6,233.4 1472.3,221.7 1474.2,216.3 C1476.0,210.8 1477.6,205.5 1479.6,203.9 C1481.7,202.4 1484.4,207.6 1486.5,206.7 C1488.5,205.8 1489.7,201.4 1492.0,198.5 C1494.2,195.5 1497.4,192.3 1500.2,188.9 C1502.9,185.5 1506.1,180.9 1508.4,177.9 C1510.7,175.0 1512.0,172.9 1513.9,171.1 C1515.7,169.3 1517.5,166.3 1519.3,167.0 C1521.2,167.7 1522.8,172.5 1524.8,175.2 C1526.9,177.9 1529.4,180.7 1531.7,183.4 C1533.9,186.2 1536.5,188.0 1538.5,191.6 C1540.6,195.3 1542.2,200.3 1544.0,205.3 C1545.8,210.3 1546.9,212.0 1549.5,221.7 C1552.0,231.5 1557.0,254.8 1559.4,264.0 C1561.7,273.2 1562.2,272.7 1563.6,277.0 C1565.0,281.3 1566.4,285.7 1567.7,290.0 C1569.1,294.3 1570.4,298.7 1571.7,303.0 C1572.9,307.3 1574.2,311.7 1575.4,316.0 C1576.6,320.3 1577.8,324.7 1579.0,329.0 C1580.2,333.3 1581.3,337.7 1582.4,342.0 C1583.5,346.3 1584.6,350.7 1585.7,355.0 C1586.8,359.3 1587.8,363.7 1588.9,368.0 C1589.9,372.3 1591.0,376.7 1592.1,381.0 C1593.2,385.3 1594.3,389.7 1595.4,394.0 C1596.4,398.3 1597.5,402.7 1598.5,407.0 C1599.6,411.3 1600.6,415.7 1601.7,420.0 C1602.7,424.3 1603.7,428.7 1604.7,433.0 C1605.7,437.3 1606.8,441.7 1607.8,446.0 C1608.8,450.3 1609.8,454.7 1610.7,459.0 C1611.7,463.3 1612.7,467.7 1613.7,472.0 C1614.7,476.3 1615.7,480.7 1616.7,485.0 C1617.7,489.3 1618.7,493.7 1619.7,498.0 C1620.6,502.3 1621.6,506.7 1622.6,511.0 C1623.6,515.3 1624.6,519.7 1625.6,524.0 C1626.6,528.3 1627.7,532.7 1628.7,537.0 C1629.7,541.3 1630.7,545.7 1631.8,550.0 C1632.8,554.3 1633.9,558.7 1634.9,563.0 C1636.0,567.3 1637.1,571.7 1638.2,576.0 C1639.2,580.3 1640.3,584.7 1641.5,589.0 C1642.6,593.3 1643.7,597.7 1644.9,602.0 C1646.0,606.3 1647.2,610.7 1648.4,615.0 C1649.5,619.3 1650.8,623.7 1652.0,628.0 C1653.2,632.3 1654.5,636.7 1655.7,641.0 C1657.0,645.3 1658.3,649.7 1659.6,654.0 C1660.9,658.3 1660.8,659.8 1663.7,667.0 C1666.5,674.2 1672.8,689.6 1676.8,697.2 C1680.8,704.8 1683.6,707.9 1687.7,712.7 C1691.8,717.4 1696.4,721.9 1701.3,725.7 C1706.1,729.5 1712.1,733.2 1716.7,735.5 C1721.4,737.8 1725.8,738.7 1729.0,739.5 C1732.1,740.4 1732.4,740.6 1735.7,740.6 C1739.1,740.7 1743.7,740.5 1749.3,739.8 C1755.0,739.2 1762.9,737.5 1769.7,736.8 C1776.5,736.2 1782.1,735.9 1790.0,735.7 C1798.0,735.6 1808.1,735.6 1817.2,735.7 C1826.2,735.9 1833.9,737.9 1844.3,736.8 C1854.8,735.7 1870.7,731.1 1880.0,729.0 C1889.3,727.0 1893.6,726.9 1900.4,724.3 C1907.1,721.7 1913.9,717.7 1920.7,713.4 C1927.5,709.2 1934.3,703.9 1941.1,698.9 C1947.9,693.9 1954.7,689.1 1961.4,683.6 C1968.2,678.0 1975.0,671.7 1981.8,665.5 C1988.6,659.3 1995.4,652.7 2002.2,646.2 C2009.0,639.8 2015.7,632.9 2022.5,626.7 C2029.3,620.5 2036.1,614.3 2042.9,608.8 C2049.7,603.3 2056.5,598.3 2063.3,593.7 C2070.0,589.1 2076.8,585.2 2083.6,581.4 C2090.4,577.5 2097.2,573.7 2104.0,570.5 C2110.8,567.3 2117.6,564.5 2124.3,562.4 C2131.1,560.2 2137.9,558.8 2144.7,557.6 C2151.5,556.4 2159.2,555.5 2165.1,554.9 C2171.0,554.3 2169.9,554.7 2180.0,553.9 C2190.1,553.1 2192.9,550.7 2225.6,550.0 C2258.3,549.4 2351.1,550.0 2376.2,550.0" stroke="#ff00ff"/>
<path d="M1468.7,216.3 C1469.4,213.5 1471.2,205.3 1472.8,199.8 C1474.4,194.4 1476.5,188.4 1478.3,183.4 C1480.1,178.4 1482.2,173.4 1483.8,169.7 C1485.4,166.1 1486.3,163.0 1487.9,161.5 C1489.5,160.1 1491.5,159.1 1493.3,161.0 C1495.2,162.8 1496.8,171.5 1498.8,172.5 C1500.9,173.5 1503.1,166.1 1505.7,167.0 C1508.2,167.9 1511.6,177.4 1513.9,177.9 C1516.2,178.5 1517.5,171.6 1519.3,170.3 C1521.2,168.9 1522.8,168.2 1524.8,169.7 C1526.9,171.2 1529.2,176.9 1531.7,179.3 C1534.2,181.7 1537.6,181.0 1539.9,184.0 C1542.2,186.9 1543.5,191.3 1545.4,197.1 C1547.2,202.9 1547.6,207.9 1550.8,219.0 C1554.0,230.2 1561.6,254.3 1564.6,264.0 C1567.6,273.7 1567.5,272.7 1569.0,277.0 C1570.4,281.3 1571.8,285.7 1573.1,290.0 C1574.5,294.3 1575.8,298.7 1577.1,303.0 C1578.4,307.3 1579.8,311.7 1581.0,316.0 C1582.2,320.3 1583.4,324.7 1584.5,329.0 C1585.7,333.3 1586.8,337.7 1587.8,342.0 C1588.9,346.3 1590.0,350.7 1591.0,355.0 C1592.1,359.3 1593.1,363.7 1594.1,368.0 C1595.1,372.3 1596.1,376.7 1597.0,381.0 C1598.0,385.3 1598.9,389.7 1599.8,394.0 C1600.7,398.3 1601.6,402.7 1602.5,407.0 C1603.4,411.3 1604.2,415.7 1605.1,420.0 C1606.0,424.3 1606.8,428.7 1607.8,433.0 C1608.7,437.3 1609.6,441.7 1610.5,446.0 C1611.5,450.3 1612.3,454.7 1613.3,459.0 C1614.2,463.3 1615.3,467.7 1616.2,472.0 C1617.2,476.3 1618.2,480.7 1619.2,485.0 C1620.2,489.3 1621.2,493.7 1622.2,498.0 C1623.2,502.3 1624.2,506.7 1625.2,511.0 C1626.2,515.3 1627.2,519.7 1628.2,524.0 C1629.2,528.3 1630.2,532.7 1631.2,537.0 C1632.3,541.3 1633.3,545.7 1634.3,550.0 C1635.4,554.3 1636.4,558.7 1637.5,563.0 C1638.5,567.3 1639.6,571.7 1640.7,576.0 C1641.8,580.3 1642.9,584.7 1644.0,589.0 C1645.1,593.3 1646.3,597.7 1647.4,602.0 C1648.6,606.3 1649.7,610.7 1650.9,615.0 C1652.1,619.3 1653.3,623.7 1654.6,628.0 C1655.8,632.3 1657.0,636.7 1658.3,641.0 C1659.6,645.3 1660.9,649.7 1662.2,654.0 C1663.5,658.3 1663.4,659.9 1666.3,667.0 C1669.1,674.1 1675.4,689.3 1679.4,696.8 C1683.4,704.3 1686.1,707.5 1690.1,712.1 C1694.1,716.8 1699.0,721.3 1703.4,724.6 C1707.9,727.9 1712.9,730.0 1716.7,732.1 C1720.5,734.1 1723.1,735.6 1726.2,736.8 C1729.4,738.1 1731.9,739.2 1735.7,739.5 C1739.6,739.9 1743.7,739.5 1749.3,738.9 C1755.0,738.2 1762.9,736.3 1769.7,735.5 C1776.5,734.7 1782.1,734.3 1790.0,734.1 C1798.0,733.9 1808.1,734.1 1817.2,734.1 C1826.2,734.1 1833.9,735.6 1844.3,734.1 C1854.8,732.6 1870.7,727.5 1880.0,725.2 C1889.3,723.0 1893.6,723.3 1900.4,720.9 C1907.1,718.5 1913.9,714.8 1920.7,710.7 C1927.5,706.7 1934.3,701.6 1941.1,696.7 C1947.9,691.9 1954.7,687.2 1961.4,681.8 C1968.2,676.4 1975.0,670.3 1981.8,664.2 C1988.6,658.1 1995.4,651.5 2002.2,645.2 C2009.0,638.8 2015.7,632.3 2022.5,626.2 C2029.3,620.0 2036.1,613.9 2042.9,608.5 C2049.7,603.1 2056.5,598.1 2063.3,593.6 C2070.0,589.0 2076.8,585.2 2083.6,581.4 C2090.4,577.5 2097.2,573.7 2104.0,570.5 C2110.8,567.3 2117.6,564.5 2124.3,562.4 C2131.1,560.2 2137.9,558.8 2144.7,557.6 C2151.5,556.4 2159.2,555.5 2165.1,554.9 C2171.0,554.3 2169.9,554.6 2180.0,553.9 C2190.1,553.3 2192.9,551.4 2225.6,551.1 C2258.3,550.9 2351.1,552.1 2376.2,552.2" stroke="#ffff00"/>
<path d="M1468.7,272.4 C1469.6,271.9 1472.3,271.2 1474.2,269.6 C1476.0,268.1 1477.8,266.2 1479.6,262.8 C1481.5,259.4 1483.3,253.2 1485.1,249.1 C1486.9,245.0 1488.5,241.6 1490.6,238.2 C1492.7,234.7 1495.2,231.6 1497.4,228.6 C1499.7,225.6 1502.0,222.7 1504.3,220.4 C1506.6,218.1 1508.6,216.7 1511.1,214.9 C1513.6,213.1 1516.8,210.1 1519.3,209.4 C1521.9,208.7 1524.4,208.7 1526.2,210.8 C1528.0,212.8 1528.9,218.8 1530.3,221.7 C1531.7,224.7 1532.3,225.8 1534.4,228.6 C1536.5,231.3 1539.6,234.7 1542.6,238.2 C1545.6,241.6 1549.6,244.8 1552.2,249.1 C1554.8,253.4 1556.7,259.4 1558.4,264.0 C1560.2,268.6 1561.5,272.7 1562.9,277.0 C1564.4,281.3 1565.8,285.7 1567.2,290.0 C1568.6,294.3 1570.0,298.7 1571.4,303.0 C1572.7,307.3 1574.0,311.7 1575.4,316.0 C1576.7,320.3 1577.9,324.7 1579.2,329.0 C1580.4,333.3 1581.7,337.7 1582.9,342.0 C1584.1,346.3 1585.3,350.7 1586.5,355.0 C1587.6,359.3 1588.8,363.7 1589.9,368.0 C1591.1,372.3 1592.2,376.7 1593.3,381.0 C1594.4,385.3 1595.5,389.7 1596.6,394.0 C1597.7,398.3 1598.7,402.7 1599.8,407.0 C1600.8,411.3 1601.9,415.7 1602.9,420.0 C1604.0,424.3 1605.0,428.7 1606.0,433.0 C1607.0,437.3 1608.0,441.7 1609.1,446.0 C1610.1,450.3 1611.1,454.7 1612.1,459.0 C1613.1,463.3 1614.1,467.7 1615.1,472.0 C1616.0,476.3 1617.0,480.7 1618.0,485.0 C1619.0,489.3 1620.0,493.7 1621.0,498.0 C1622.0,502.3 1623.0,506.7 1624.0,511.0 C1625.0,515.3 1626.0,519.7 1627.0,524.0 C1628.1,528.3 1629.1,532.7 1630.1,537.0 C1631.1,541.3 1632.2,545.7 1633.2,550.0 C1634.3,554.3 1635.3,558.7 1636.4,563.0 C1637.4,567.3 1638.5,571.7 1639.6,576.0 C1640.7,580.3 1641.8,584.7 1642.9,589.0 C1644.1,593.3 1645.2,597.7 1646.4,602.0 C1647.5,606.3 1648.7,610.7 1649.9,615.0 C1651.1,619.3 1652.3,623.7 1653.5,628.0 C1654.7,632.3 1656.0,636.7 1657.3,641.0 C1658.6,645.3 1659.9,649.7 1661.2,654.0 C1662.5,658.3 1662.3,660.0 1665.2,667.0 C1668.2,674.0 1674.7,688.8 1678.7,696.1 C1682.8,703.4 1685.5,706.5 1689.6,711.0 C1693.7,715.6 1698.6,720.1 1703.2,723.3 C1707.7,726.4 1712.4,728.1 1716.7,730.0 C1721.0,732.0 1725.8,733.8 1729.0,734.8 C1732.1,735.8 1733.3,736.5 1735.7,736.2 C1738.2,735.8 1740.5,734.1 1743.9,732.8 C1747.3,731.4 1751.8,729.0 1756.1,728.0 C1760.4,727.0 1764.0,726.9 1769.7,726.7 C1775.3,726.4 1783.3,726.5 1790.0,726.7 C1796.8,726.8 1803.6,727.1 1810.4,727.3 C1817.2,727.6 1825.1,727.9 1830.8,728.0 C1836.4,728.1 1836.1,729.2 1844.3,728.0 C1852.5,726.8 1870.7,722.8 1880.0,720.9 C1889.3,719.0 1893.6,719.1 1900.4,716.8 C1907.1,714.6 1913.9,711.2 1920.7,707.3 C1927.5,703.5 1934.3,698.5 1941.1,693.8 C1947.9,689.0 1954.7,684.3 1961.4,678.8 C1968.2,673.4 1975.0,667.3 1981.8,661.2 C1988.6,655.1 1995.4,648.5 2002.2,642.2 C2009.0,635.8 2015.7,629.3 2022.5,623.2 C2029.3,617.1 2036.1,611.0 2042.9,605.5 C2049.7,600.1 2056.5,595.1 2063.3,590.6 C2070.0,586.1 2076.8,582.2 2083.6,578.4 C2090.4,574.5 2097.2,570.7 2104.0,567.5 C2110.8,564.3 2117.6,561.5 2124.3,559.4 C2131.1,557.2 2137.9,555.9 2144.7,554.6 C2151.5,553.4 2159.2,552.5 2165.1,551.9 C2171.0,551.3 2169.9,551.0 2180.0,551.0 C2190.1,550.9 2192.9,551.6 2225.6,551.7 C2258.3,551.8 2351.1,551.7 2376.2,551.7" stroke="#808000"/>
</g>
<line x1="1468.20" y1="770.40" x2="1468.20" y2="784.90" stroke="#0d0d0d" stroke-width="3.10" stroke-linecap="butt"/>
<text transform="translate(1468.20,817.50) scale(0.9300,1.0000)" font-size="34.50" text-anchor="middle" fill="#0d0d0d">190</text>
<line x1="1533.03" y1="770.40" x2="1533.03" y2="778.90" stroke="#0d0d0d" stroke-width="3.10" stroke-linecap="butt"/>
<line x1="1533.03" y1="103.00" x2="1533.03" y2="111.50" stroke="#0d0d0d" stroke-width="3.10" stroke-linecap="butt"/>
<line x1="1597.86" y1="770.40" x2="1597.86" y2="784.90" stroke="#0d0d0d" stroke-width="3.10" stroke-linecap="butt"/>
<line x1="1597.86" y1="103.00" x2="1597.86" y2="117.50" stroke="#0d0d0d" stroke-width="3.10" stroke-linecap="butt"/>
<text transform="translate(1597.86,817.50) scale(0.9300,1.0000)" font-size="34.50" text-anchor="middle" fill="#0d0d0d">200</text>
<line x1="1662.69" y1="770.40" x2="1662.69" y2="778.90" stroke="#0d0d0d" stroke-width="3.10" stroke-linecap="butt"/>
<line x1="1662.69" y1="103.00" x2="1662.69" y2="111.50" stroke="#0d0d0d" stroke-width="3.10" stroke-linecap="butt"/>
<line x1="1727.51" y1="770.40" x2="1727.51" y2="784.90" stroke="#0d0d0d" stroke-width="3.10" stroke-linecap="butt"/>
<line x1="1727.51" y1="103.00" x2="1727.51" y2="117.50" stroke="#0d0d0d" stroke-width="3.10" stroke-linecap="butt"/>
<text transform="translate(1727.51,817.50) scale(0.9300,1.0000)" font-size="34.50" text-anchor="middle" fill="#0d0d0d">210</text>
<line x1="1792.34" y1="770.40" x2="1792.34" y2="778.90" stroke="#0d0d0d" stroke-width="3.10" stroke-linecap="butt"/>
<line x1="1792.34" y1="103.00" x2="1792.34" y2="111.50" stroke="#0d0d0d" stroke-width="3.10" stroke-linecap="butt"/>
<line x1="1857.17" y1="770.40" x2="1857.17" y2="784.90" stroke="#0d0d0d" stroke-width="3.10" stroke-linecap="butt"/>
<line x1="1857.17" y1="103.00" x2="1857.17" y2="117.50" stroke="#0d0d0d" stroke-width="3.10" stroke-linecap="butt"/>
<text transform="translate(1857.17,817.50) scale(0.9300,1.0000)" font-size="34.50" text-anchor="middle" fill="#0d0d0d">220</text>
<line x1="1922.00" y1="770.40" x2="1922.00" y2="778.90" stroke="#0d0d0d" stroke-width="3.10" stroke-linecap="butt"/>
<line x1="1922.00" y1="103.00" x2="1922.00" y2="111.50" stroke="#0d0d0d" stroke-width="3.10" stroke-linecap="butt"/>
<line x1="1986.83" y1="770.40" x2="1986.83" y2="784.90" stroke="#0d0d0d" stroke-width="3.10" stroke-linecap="butt"/>
<line x1="1986.83" y1="103.00" x2="1986.83" y2="117.50" stroke="#0d0d0d" stroke-width="3.10" stroke-linecap="butt"/>
<text transform="translate(1986.83,817.50) scale(0.9300,1.0000)" font-size="34.50" text-anchor="middle" fill="#0d0d0d">230</text>
<line x1="2051.66" y1="770.40" x2="2051.66" y2="778.90" stroke="#0d0d0d" stroke-width="3.10" stroke-linecap="butt"/>
<line x1="2051.66" y1="103.00" x2="2051.66" y2="111.50" stroke="#0d0d0d" stroke-width="3.10" stroke-linecap="butt"/>
<line x1="2116.49" y1="770.40" x2="2116.49" y2="784.90" stroke="#0d0d0d" stroke-width="3.10" stroke-linecap="butt"/>
<line x1="2116.49" y1="103.00" x2="2116.49" y2="117.50" stroke="#0d0d0d" stroke-width="3.10" stroke-linecap="butt"/>
<text transform="translate(2116.49,817.50) scale(0.9300,1.0000)" font-size="34.50" text-anchor="middle" fill="#0d0d0d">240</text>
<line x1="2181.31" y1="770.40" x2="2181.31" y2="778.90" stroke="#0d0d0d" stroke-width="3.10" stroke-linecap="butt"/>
<line x1="2181.31" y1="103.00" x2="2181.31" y2="111.50" stroke="#0d0d0d" stroke-width="3.10" stroke-linecap="butt"/>
<line x1="2246.14" y1="770.40" x2="2246.14" y2="784.90" stroke="#0d0d0d" stroke-width="3.10" stroke-linecap="butt"/>
<line x1="2246.14" y1="103.00" x2="2246.14" y2="117.50" stroke="#0d0d0d" stroke-width="3.10" stroke-linecap="butt"/>
<text transform="translate(2246.14,817.50) scale(0.9300,1.0000)" font-size="34.50" text-anchor="middle" fill="#0d0d0d">250</text>
<line x1="2310.97" y1="770.40" x2="2310.97" y2="778.90" stroke="#0d0d0d" stroke-width="3.10" stroke-linecap="butt"/>
<line x1="2310.97" y1="103.00" x2="2310.97" y2="111.50" stroke="#0d0d0d" stroke-width="3.10" stroke-linecap="butt"/>
<line x1="2375.80" y1="770.40" x2="2375.80" y2="784.90" stroke="#0d0d0d" stroke-width="3.10" stroke-linecap="butt"/>
<text transform="translate(2375.80,817.50) scale(0.9300,1.0000)" font-size="34.50" text-anchor="middle" fill="#0d0d0d">260</text>
<line x1="1453.70" y1="103.10" x2="1468.20" y2="103.10" stroke="#0d0d0d" stroke-width="3.10" stroke-linecap="butt"/>
<text transform="translate(1443.90,111.80) scale(0.9300,1.0000)" font-size="34.50" text-anchor="end" fill="#0d0d0d">60</text>
<line x1="1459.70" y1="158.71" x2="1468.20" y2="158.71" stroke="#0d0d0d" stroke-width="3.10" stroke-linecap="butt"/>
<line x1="2367.30" y1="158.71" x2="2375.80" y2="158.71" stroke="#0d0d0d" stroke-width="3.10" stroke-linecap="butt"/>
<line x1="1453.70" y1="214.32" x2="1468.20" y2="214.32" stroke="#0d0d0d" stroke-width="3.10" stroke-linecap="butt"/>
<line x1="2361.30" y1="214.32" x2="2375.80" y2="214.32" stroke="#0d0d0d" stroke-width="3.10" stroke-linecap="butt"/>
<text transform="translate(1443.90,223.02) scale(0.9300,1.0000)" font-size="34.50" text-anchor="end" fill="#0d0d0d">45</text>
<line x1="1459.70" y1="269.94" x2="1468.20" y2="269.94" stroke="#0d0d0d" stroke-width="3.10" stroke-linecap="butt"/>
<line x1="2367.30" y1="269.94" x2="2375.80" y2="269.94" stroke="#0d0d0d" stroke-width="3.10" stroke-linecap="butt"/>
<line x1="1453.70" y1="325.55" x2="1468.20" y2="325.55" stroke="#0d0d0d" stroke-width="3.10" stroke-linecap="butt"/>
<line x1="2361.30" y1="325.55" x2="2375.80" y2="325.55" stroke="#0d0d0d" stroke-width="3.10" stroke-linecap="butt"/>
<text transform="translate(1443.90,334.25) scale(0.9300,1.0000)" font-size="34.50" text-anchor="end" fill="#0d0d0d">30</text>
<line x1="1459.70" y1="381.16" x2="1468.20" y2="381.16" stroke="#0d0d0d" stroke-width="3.10" stroke-linecap="butt"/>
<line x1="2367.30" y1="381.16" x2="2375.80" y2="381.16" stroke="#0d0d0d" stroke-width="3.10" stroke-linecap="butt"/>
<line x1="1453.70" y1="436.77" x2="1468.20" y2="436.77" stroke="#0d0d0d" stroke-width="3.10" stroke-linecap="butt"/>
<line x1="2361.30" y1="436.77" x2="2375.80" y2="436.77" stroke="#0d0d0d" stroke-width="3.10" stroke-linecap="butt"/>
<text transform="translate(1443.90,445.47) scale(0.9300,1.0000)" font-size="34.50" text-anchor="end" fill="#0d0d0d">15</text>
<line x1="1459.70" y1="492.39" x2="1468.20" y2="492.39" stroke="#0d0d0d" stroke-width="3.10" stroke-linecap="butt"/>
<line x1="2367.30" y1="492.39" x2="2375.80" y2="492.39" stroke="#0d0d0d" stroke-width="3.10" stroke-linecap="butt"/>
<line x1="1453.70" y1="548.00" x2="1468.20" y2="548.00" stroke="#0d0d0d" stroke-width="3.10" stroke-linecap="butt"/>
<line x1="2361.30" y1="548.00" x2="2375.80" y2="548.00" stroke="#0d0d0d" stroke-width="3.10" stroke-linecap="butt"/>
<text transform="translate(1443.90,556.70) scale(0.9300,1.0000)" font-size="34.50" text-anchor="end" fill="#0d0d0d">0</text>
<line x1="1459.70" y1="603.61" x2="1468.20" y2="603.61" stroke="#0d0d0d" stroke-width="3.10" stroke-linecap="butt"/>
<line x1="2367.30" y1="603.61" x2="2375.80" y2="603.61" stroke="#0d0d0d" stroke-width="3.10" stroke-linecap="butt"/>
<line x1="1453.70" y1="659.23" x2="1468.20" y2="659.23" stroke="#0d0d0d" stroke-width="3.10" stroke-linecap="butt"/>
<line x1="2361.30" y1="659.23" x2="2375.80" y2="659.23" stroke="#0d0d0d" stroke-width="3.10" stroke-linecap="butt"/>
<text transform="translate(1443.90,667.93) scale(0.9300,1.0000)" font-size="34.50" text-anchor="end" fill="#0d0d0d"><tspan dy="1.8" fill="#3a3a3a">–</tspan><tspan dy="-1.8">15</tspan></text>
<line x1="1459.70" y1="714.84" x2="1468.20" y2="714.84" stroke="#0d0d0d" stroke-width="3.10" stroke-linecap="butt"/>
<line x1="2367.30" y1="714.84" x2="2375.80" y2="714.84" stroke="#0d0d0d" stroke-width="3.10" stroke-linecap="butt"/>
<line x1="1453.70" y1="770.45" x2="1468.20" y2="770.45" stroke="#0d0d0d" stroke-width="3.10" stroke-linecap="butt"/>
<text transform="translate(1443.90,779.15) scale(0.9300,1.0000)" font-size="34.50" text-anchor="end" fill="#0d0d0d"><tspan dy="1.8" fill="#3a3a3a">–</tspan><tspan dy="-1.8">30</tspan></text>
<text transform="translate(1921.70,878.10)" font-size="39.00" text-anchor="middle" fill="#0d0d0d" letter-spacing="0.15">Wavelenght (nm)</text>
<text transform="translate(1332.60,647.35) rotate(-90)" text-anchor="start" letter-spacing="-0.22" fill="#0d0d0d"><tspan font-size="39.0">[Theta] (10</tspan><tspan font-size="23.5" dy="-21.5">3</tspan><tspan font-size="39.0" dy="21.5">.deg.cm</tspan><tspan font-size="23.5" dy="-21.5">2</tspan><tspan font-size="39.0" dy="21.5">/dmol)</tspan></text>
<text transform="translate(1259.75,98.40) scale(0.9649,1.0000)" font-size="83.49" text-anchor="start" fill="#000">B</text>
<text transform="translate(2130.00,164.20)" font-size="31.00" text-anchor="start" fill="#0d0d0d" letter-spacing="1.25">[Lipid] (mM)</text>
<line x1="2131.30" y1="193.80" x2="2204.80" y2="193.80" stroke="#000000" stroke-width="7.00" stroke-linecap="round"/>
<text transform="translate(2213.70,204.40)" font-size="32.00" text-anchor="start" fill="#0d0d0d" letter-spacing="0.55">Solution</text>
<line x1="2131.30" y1="234.06" x2="2204.80" y2="234.06" stroke="#ff0000" stroke-width="7.00" stroke-linecap="round"/>
<text transform="translate(2213.70,244.66)" font-size="32.00" text-anchor="start" fill="#0d0d0d" letter-spacing="0.55">0.03</text>
<line x1="2131.30" y1="274.32" x2="2204.80" y2="274.32" stroke="#00ff00" stroke-width="7.00" stroke-linecap="round"/>
<text transform="translate(2213.70,284.92)" font-size="32.00" text-anchor="start" fill="#0d0d0d" letter-spacing="0.55">0.05</text>
<line x1="2131.30" y1="314.58" x2="2204.80" y2="314.58" stroke="#0000ff" stroke-width="7.00" stroke-linecap="round"/>
<text transform="translate(2213.70,325.18)" font-size="32.00" text-anchor="start" fill="#0d0d0d" letter-spacing="0.55">0.10</text>
<line x1="2131.30" y1="354.84" x2="2204.80" y2="354.84" stroke="#00ffff" stroke-width="7.00" stroke-linecap="round"/>
<text transform="translate(2213.70,365.44)" font-size="32.00" text-anchor="start" fill="#0d0d0d" letter-spacing="0.55">0.20</text>
<line x1="2131.30" y1="395.10" x2="2204.80" y2="395.10" stroke="#ff00ff" stroke-width="7.00" stroke-linecap="round"/>
<text transform="translate(2213.70,405.70)" font-size="32.00" text-anchor="start" fill="#0d0d0d" letter-spacing="0.55">0.40</text>
<line x1="2131.30" y1="435.36" x2="2204.80" y2="435.36" stroke="#ffff00" stroke-width="7.00" stroke-linecap="round"/>
<text transform="translate(2213.70,445.96)" font-size="32.00" text-anchor="start" fill="#0d0d0d" letter-spacing="0.55">0.60</text>
<line x1="2131.30" y1="475.62" x2="2204.80" y2="475.62" stroke="#808000" stroke-width="7.00" stroke-linecap="round"/>
<text transform="translate(2213.70,486.22)" font-size="32.00" text-anchor="start" fill="#0d0d0d" letter-spacing="0.55">0.80</text>
<line x1="253.80" y1="1006.90" x2="253.80" y2="1705.90" stroke="#0d0d0d" stroke-width="3.50" stroke-linecap="butt"/>
<line x1="252.10" y1="1704.30" x2="1191.00" y2="1704.30" stroke="#0d0d0d" stroke-width="3.00" stroke-linecap="butt"/>
<line x1="245.20" y1="1008.70" x2="253.80" y2="1008.70" stroke="#0d0d0d" stroke-width="3.00" stroke-linecap="butt"/>
<line x1="238.60" y1="1052.20" x2="253.80" y2="1052.20" stroke="#0d0d0d" stroke-width="3.00" stroke-linecap="butt"/>
<text transform="translate(229.90,1058.90)" font-size="26.50" text-anchor="end" fill="#0d0d0d">0.14</text>
<line x1="245.20" y1="1095.69" x2="253.80" y2="1095.69" stroke="#0d0d0d" stroke-width="3.00" stroke-linecap="butt"/>
<line x1="238.60" y1="1139.18" x2="253.80" y2="1139.18" stroke="#0d0d0d" stroke-width="3.00" stroke-linecap="butt"/>
<text transform="translate(229.90,1145.88)" font-size="26.50" text-anchor="end" fill="#0d0d0d">0.12</text>
<line x1="245.20" y1="1182.68" x2="253.80" y2="1182.68" stroke="#0d0d0d" stroke-width="3.00" stroke-linecap="butt"/>
<line x1="238.60" y1="1226.17" x2="253.80" y2="1226.17" stroke="#0d0d0d" stroke-width="3.00" stroke-linecap="butt"/>
<text transform="translate(229.90,1232.87)" font-size="26.50" text-anchor="end" fill="#0d0d0d">0.10</text>
<line x1="245.20" y1="1269.66" x2="253.80" y2="1269.66" stroke="#0d0d0d" stroke-width="3.00" stroke-linecap="butt"/>
<line x1="238.60" y1="1313.16" x2="253.80" y2="1313.16" stroke="#0d0d0d" stroke-width="3.00" stroke-linecap="butt"/>
<text transform="translate(229.90,1319.86)" font-size="26.50" text-anchor="end" fill="#0d0d0d">0.08</text>
<line x1="245.20" y1="1356.65" x2="253.80" y2="1356.65" stroke="#0d0d0d" stroke-width="3.00" stroke-linecap="butt"/>
<line x1="238.60" y1="1400.14" x2="253.80" y2="1400.14" stroke="#0d0d0d" stroke-width="3.00" stroke-linecap="butt"/>
<text transform="translate(229.90,1406.84)" font-size="26.50" text-anchor="end" fill="#0d0d0d">0.06</text>
<line x1="245.20" y1="1443.63" x2="253.80" y2="1443.63" stroke="#0d0d0d" stroke-width="3.00" stroke-linecap="butt"/>
<line x1="238.60" y1="1487.13" x2="253.80" y2="1487.13" stroke="#0d0d0d" stroke-width="3.00" stroke-linecap="butt"/>
<text transform="translate(229.90,1493.83)" font-size="26.50" text-anchor="end" fill="#0d0d0d">0.04</text>
<line x1="245.20" y1="1530.62" x2="253.80" y2="1530.62" stroke="#0d0d0d" stroke-width="3.00" stroke-linecap="butt"/>
<line x1="238.60" y1="1574.11" x2="253.80" y2="1574.11" stroke="#0d0d0d" stroke-width="3.00" stroke-linecap="butt"/>
<text transform="translate(229.90,1580.81)" font-size="26.50" text-anchor="end" fill="#0d0d0d">0.02</text>
<line x1="245.20" y1="1617.61" x2="253.80" y2="1617.61" stroke="#0d0d0d" stroke-width="3.00" stroke-linecap="butt"/>
<line x1="238.60" y1="1661.10" x2="253.80" y2="1661.10" stroke="#0d0d0d" stroke-width="3.00" stroke-linecap="butt"/>
<text transform="translate(229.90,1667.80)" font-size="26.50" text-anchor="end" fill="#0d0d0d">0.00</text>
<line x1="245.20" y1="1704.59" x2="253.80" y2="1704.59" stroke="#0d0d0d" stroke-width="3.00" stroke-linecap="butt"/>
<line x1="253.16" y1="1704.30" x2="253.16" y2="1712.10" stroke="#0d0d0d" stroke-width="3.00" stroke-linecap="butt"/>
<line x1="357.20" y1="1704.30" x2="357.20" y2="1718.80" stroke="#0d0d0d" stroke-width="3.00" stroke-linecap="butt"/>
<text transform="translate(357.20,1747.70)" font-size="26.50" text-anchor="middle" fill="#0d0d0d">0</text>
<line x1="461.24" y1="1704.30" x2="461.24" y2="1712.10" stroke="#0d0d0d" stroke-width="3.00" stroke-linecap="butt"/>
<line x1="565.27" y1="1704.30" x2="565.27" y2="1718.80" stroke="#0d0d0d" stroke-width="3.00" stroke-linecap="butt"/>
<text transform="translate(565.27,1747.70)" font-size="26.50" text-anchor="middle" fill="#0d0d0d">5</text>
<line x1="669.30" y1="1704.30" x2="669.30" y2="1712.10" stroke="#0d0d0d" stroke-width="3.00" stroke-linecap="butt"/>
<line x1="773.34" y1="1704.30" x2="773.34" y2="1718.80" stroke="#0d0d0d" stroke-width="3.00" stroke-linecap="butt"/>
<text transform="translate(773.34,1747.70)" font-size="26.50" text-anchor="middle" fill="#0d0d0d">10</text>
<line x1="877.38" y1="1704.30" x2="877.38" y2="1712.10" stroke="#0d0d0d" stroke-width="3.00" stroke-linecap="butt"/>
<line x1="981.41" y1="1704.30" x2="981.41" y2="1718.80" stroke="#0d0d0d" stroke-width="3.00" stroke-linecap="butt"/>
<text transform="translate(981.41,1747.70)" font-size="26.50" text-anchor="middle" fill="#0d0d0d">15</text>
<line x1="1085.44" y1="1704.30" x2="1085.44" y2="1712.10" stroke="#0d0d0d" stroke-width="3.00" stroke-linecap="butt"/>
<line x1="1189.48" y1="1704.30" x2="1189.48" y2="1718.80" stroke="#0d0d0d" stroke-width="3.00" stroke-linecap="butt"/>
<text transform="translate(1189.48,1747.70)" font-size="26.50" text-anchor="middle" fill="#0d0d0d">20</text>
<text transform="translate(721.30,1799.40)" font-size="31.00" text-anchor="middle" fill="#0d0d0d" letter-spacing="1.05">[Pep]Free (uM)</text>
<text transform="translate(154.40,1378.00) rotate(-90)" font-size="31.50" text-anchor="middle" fill="#0d0d0d" letter-spacing="0.55">Bound peptide/Lipid ratio</text>
<text transform="translate(45.78,1005.24) scale(0.9377,1.0000)" font-size="85.65" text-anchor="start" fill="#000">C</text>
<polyline points="357.3,1661.1 594.0,1641.4 755.0,1642.0 820.2,1636.8 990.2,1635.1 1064.1,1628.0 1128.4,1629.7" fill="none" stroke="#ff0000" stroke-width="2.8" stroke-linejoin="round"/>
<rect x="349.6" y="1653.4" width="15.4" height="15.4" fill="#ff0000"/>
<rect x="586.3" y="1633.7" width="15.4" height="15.4" fill="#ff0000"/>
<rect x="747.3" y="1634.3" width="15.4" height="15.4" fill="#ff0000"/>
<rect x="812.5" y="1629.1" width="15.4" height="15.4" fill="#ff0000"/>
<rect x="982.5" y="1627.4" width="15.4" height="15.4" fill="#ff0000"/>
<rect x="1056.4" y="1620.3" width="15.4" height="15.4" fill="#ff0000"/>
<rect x="1120.7" y="1622.0" width="15.4" height="15.4" fill="#ff0000"/>
<polyline points="357.3,1661.1 368.2,1607.2 376.7,1590.0 384.1,1551.9 407.1,1525.1 639.2,1373.1 939.8,1400.5" fill="none" stroke="#0000ff" stroke-width="2.8" stroke-linejoin="round"/>
<circle cx="357.3" cy="1661.1" r="8.1" fill="#0000ff"/>
<circle cx="368.2" cy="1607.2" r="8.1" fill="#0000ff"/>
<circle cx="376.7" cy="1590.0" r="8.1" fill="#0000ff"/>
<circle cx="384.1" cy="1551.9" r="8.1" fill="#0000ff"/>
<circle cx="407.1" cy="1525.1" r="8.1" fill="#0000ff"/>
<circle cx="639.2" cy="1373.1" r="8.1" fill="#0000ff"/>
<circle cx="939.8" cy="1400.5" r="8.1" fill="#0000ff"/>
<polyline points="357.3,1661.1 360.8,1556.6 373.7,1519.6 375.0,1444.3 377.8,1234.8 710.4,1159.5 951.8,1163.6 1049.9,1078.2" fill="none" stroke="#008000" stroke-width="2.8" stroke-linejoin="round"/>
<path d="M357.3,1650.1 L367.6,1668.1 L347.0,1668.1 Z" fill="#008000"/>
<path d="M360.8,1545.6 L371.1,1563.6 L350.5,1563.6 Z" fill="#008000"/>
<path d="M373.7,1508.6 L384.0,1526.6 L363.4,1526.6 Z" fill="#008000"/>
<path d="M375.0,1433.3 L385.3,1451.3 L364.7,1451.3 Z" fill="#008000"/>
<path d="M377.8,1223.8 L388.1,1241.8 L367.5,1241.8 Z" fill="#008000"/>
<path d="M710.4,1148.5 L720.7,1166.5 L700.1,1166.5 Z" fill="#008000"/>
<path d="M951.8,1152.6 L962.1,1170.6 L941.5,1170.6 Z" fill="#008000"/>
<path d="M1049.9,1067.2 L1060.2,1085.2 L1039.6,1085.2 Z" fill="#008000"/>
<polyline points="357.3,1661.1 360.8,1562.0 362.7,1516.9 367.7,1479.9 372.3,1393.1 390.1,1243.0 555.7,1220.6 732.8,1182.8 922.0,1102.6" fill="none" stroke="#808000" stroke-width="2.8" stroke-linejoin="round"/>
<path d="M357.3,1672.7 L367.6,1654.5 L347.0,1654.5 Z" fill="#808000"/>
<path d="M360.8,1573.6 L371.1,1555.4 L350.5,1555.4 Z" fill="#808000"/>
<path d="M362.7,1528.5 L373.0,1510.3 L352.4,1510.3 Z" fill="#808000"/>
<path d="M367.7,1491.5 L378.0,1473.3 L357.4,1473.3 Z" fill="#808000"/>
<path d="M372.3,1404.7 L382.6,1386.5 L362.0,1386.5 Z" fill="#808000"/>
<path d="M390.1,1254.6 L400.4,1236.4 L379.8,1236.4 Z" fill="#808000"/>
<path d="M555.7,1232.2 L566.0,1214.0 L545.4,1214.0 Z" fill="#808000"/>
<path d="M732.8,1194.4 L743.1,1176.2 L722.5,1176.2 Z" fill="#808000"/>
<path d="M922.0,1114.2 L932.3,1096.0 L911.7,1096.0 Z" fill="#808000"/>
<line x1="270.40" y1="1028.20" x2="337.60" y2="1028.20" stroke="#ff0000" stroke-width="2.80" stroke-linecap="butt"/>
<rect x="296.3" y="1020.5" width="15.4" height="15.4" fill="#ff0000"/>
<text transform="translate(341.40,1036.80)" font-size="27.50" text-anchor="start" fill="#0d0d0d" letter-spacing="0.50">POPC</text>
<line x1="270.40" y1="1063.00" x2="337.60" y2="1063.00" stroke="#0000ff" stroke-width="2.80" stroke-linecap="butt"/>
<circle cx="304.0" cy="1063.0" r="8.1" fill="#0000ff"/>
<text transform="translate(341.40,1071.60)" font-size="27.50" text-anchor="start" fill="#0d0d0d" letter-spacing="0.50">POPC:POPG (70:30)</text>
<line x1="270.40" y1="1097.80" x2="337.60" y2="1097.80" stroke="#008000" stroke-width="2.80" stroke-linecap="butt"/>
<path d="M304.0,1086.8 L314.3,1104.8 L293.7,1104.8 Z" fill="#008000"/>
<text transform="translate(341.40,1106.40)" font-size="27.50" text-anchor="start" fill="#0d0d0d" letter-spacing="0.50">POPC:POPG (50:50)</text>
<line x1="270.40" y1="1132.60" x2="337.60" y2="1132.60" stroke="#808000" stroke-width="2.80" stroke-linecap="butt"/>
<path d="M304.0,1144.2 L314.3,1126.0 L293.7,1126.0 Z" fill="#808000"/>
<text transform="translate(341.40,1141.20)" font-size="27.50" text-anchor="start" fill="#0d0d0d" letter-spacing="0.50">POPC:POPG (30:70)</text>
</svg>
</body></html>
